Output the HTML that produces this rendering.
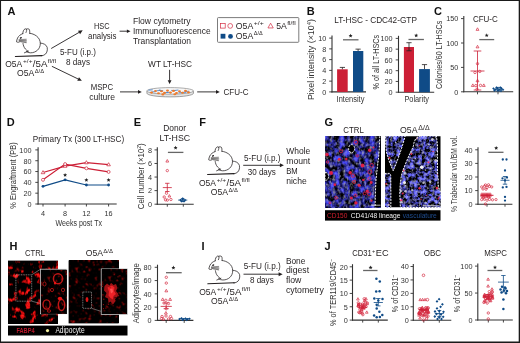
<!DOCTYPE html>
<html><head><meta charset="utf-8"><style>
html,body{margin:0;padding:0;background:#fff;}
body{width:520px;height:343px;overflow:hidden;}
svg{display:block;font-family:"Liberation Sans",sans-serif;will-change:transform;}
</style></head><body>
<svg width="520" height="343" viewBox="0 0 520 343">
<defs>
<filter id="fblue" x="0" y="0" width="100%" height="100%" color-interpolation-filters="sRGB">
  <feTurbulence type="fractalNoise" baseFrequency="0.2" numOctaves="3" seed="4" result="n"/>
  <feColorMatrix in="n" type="matrix" values="
   0.8 0 0 0 -0.3
   0.8 0 0 0 -0.3
   2.6 0 0 0 -0.86
   0 0 0 0 1"/>
</filter>
<filter id="fblue2" x="0" y="0" width="100%" height="100%" color-interpolation-filters="sRGB">
  <feTurbulence type="fractalNoise" baseFrequency="0.24" numOctaves="3" seed="17" result="n"/>
  <feColorMatrix in="n" type="matrix" values="
   1.4 0 0 0 -0.56
   1.4 0 0 0 -0.56
   3.3 0 0 0 -1.22
   0 0 0 0 1"/>
</filter>
<filter id="fgray" x="0" y="0" width="100%" height="100%" color-interpolation-filters="sRGB">
  <feTurbulence type="fractalNoise" baseFrequency="0.38" numOctaves="2" seed="13" result="n"/>
  <feColorMatrix in="n" type="matrix" values="
   0 0 0 0 0.62
   0 0 0 0 0.62
   0 0 0 0 0.68
   2.4 0 0 0 -1.1"/>
</filter>
<filter id="fred" x="0" y="0" width="100%" height="100%" color-interpolation-filters="sRGB">
  <feTurbulence type="fractalNoise" baseFrequency="0.17" numOctaves="4" seed="9" result="n"/>
  <feColorMatrix in="n" type="matrix" values="
   5.5 0 0 0 -3.05
   0.7 0 0 0 -0.44
   0.7 0 0 0 -0.44
   0 0 0 0 1"/>
</filter>
<filter id="fred2" x="0" y="0" width="100%" height="100%" color-interpolation-filters="sRGB">
  <feTurbulence type="fractalNoise" baseFrequency="0.3" numOctaves="3" seed="21" result="n"/>
  <feColorMatrix in="n" type="matrix" values="
   3.0 0 0 0 -1.74
   0.25 0 0 0 -0.16
   0.25 0 0 0 -0.16
   0 0 0 0 1"/>
</filter>
<clipPath id="cg1"><rect x="325" y="136.2" width="55.9" height="71.1"/></clipPath>
<clipPath id="cg2"><rect x="385" y="136.2" width="55.5" height="71.1"/></clipPath>
</defs>
<rect x="0" y="0" width="520" height="343" fill="#fff"/>
<g clip-path="url(#cg1)">
<rect x="325" y="136.2" width="56" height="71.2" fill="#1a1a48"/>
<svg x="325" y="136.2" width="56" height="71.2" overflow="hidden"><rect width="70" height="80" filter="url(#fblue)"/></svg>
<svg x="325" y="136.2" width="56" height="71.2" overflow="hidden"><rect width="70" height="80" filter="url(#fgray)"/></svg>
<circle cx="371.5" cy="200.7" r="1.1" fill="#f02040" opacity="0.9"/>
<circle cx="367.2" cy="191.1" r="1.7" fill="#f02040" opacity="0.9"/>
<circle cx="359.2" cy="185.3" r="1.6" fill="#f02040" opacity="0.9"/>
<circle cx="353.1" cy="175.7" r="1.7" fill="none" stroke="#f02040" stroke-width="0.8" opacity="0.9"/>
<circle cx="371.2" cy="182.5" r="1.4" fill="#f02040" opacity="0.9"/>
<circle cx="339.3" cy="159.2" r="1.5" fill="#f02040" opacity="0.9"/>
<circle cx="351.3" cy="198.1" r="1.5" fill="#f02040" opacity="0.9"/>
<circle cx="346.3" cy="159.1" r="1.3" fill="#f02040" opacity="0.9"/>
<circle cx="355.9" cy="202.9" r="1.7" fill="#f02040" opacity="0.9"/>
<circle cx="369.3" cy="193.9" r="1.7" fill="none" stroke="#f02040" stroke-width="0.8" opacity="0.9"/>
<circle cx="364.7" cy="193.5" r="1.4" fill="none" stroke="#f02040" stroke-width="0.8" opacity="0.9"/>
<circle cx="371.7" cy="165.3" r="1.8" fill="none" stroke="#f02040" stroke-width="0.8" opacity="0.9"/>
<circle cx="354.1" cy="181.9" r="1.5" fill="none" stroke="#f02040" stroke-width="0.8" opacity="0.9"/>
<circle cx="355.5" cy="195.4" r="1.4" fill="none" stroke="#f02040" stroke-width="0.8" opacity="0.9"/>
<circle cx="369.5" cy="178.7" r="1.6" fill="none" stroke="#f02040" stroke-width="0.8" opacity="0.9"/>
<circle cx="363.3" cy="179.9" r="1.2" fill="#f02040" opacity="0.9"/>
<circle cx="362.5" cy="165.5" r="1.9" fill="#f02040" opacity="0.9"/>
<circle cx="369.9" cy="171.9" r="2.0" fill="none" stroke="#f02040" stroke-width="0.8" opacity="0.9"/>
<circle cx="350.2" cy="172.7" r="1.7" fill="#f02040" opacity="0.9"/>
<circle cx="341.0" cy="151.3" r="1.5" fill="none" stroke="#f02040" stroke-width="0.8" opacity="0.9"/>
<circle cx="355.9" cy="142.2" r="1.8" fill="none" stroke="#f02040" stroke-width="0.8" opacity="0.9"/>
<circle cx="369.6" cy="150.2" r="1.7" fill="#f02040" opacity="0.9"/>
<circle cx="357.3" cy="155.8" r="1.2" fill="none" stroke="#f02040" stroke-width="0.8" opacity="0.9"/>
<circle cx="331.1" cy="173.0" r="1.9" fill="#f02040" opacity="0.9"/>
<circle cx="336.1" cy="197.8" r="1.4" fill="none" stroke="#f02040" stroke-width="0.8" opacity="0.9"/>
<circle cx="327.5" cy="162.0" r="1.2" fill="none" stroke="#f02040" stroke-width="0.8" opacity="0.9"/>
<circle cx="330.0" cy="202.9" r="1.0" fill="none" stroke="#f02040" stroke-width="0.8" opacity="0.9"/>
<circle cx="327.0" cy="154.6" r="1.8" fill="#f02040" opacity="0.9"/>
<circle cx="334.8" cy="184.7" r="1.4" fill="#f02040" opacity="0.9"/>
<circle cx="373.5" cy="147.4" r="1.0" fill="#f02040" opacity="0.9"/>
<path d="M379.8,136 C379.5,146 379,155 378.3,160 C377.5,166 376.8,172 376,180 C375.5,188 375.2,198 375.1,207.5 L382,207.5 L382,136 Z" fill="#000"/>
<path d="M379.8,136 C379.5,146 379,155 378.3,160 C377.5,166 376.8,172 376,180 C375.5,188 375.2,198 375.1,207.5" stroke="#fff" stroke-width="0.95" stroke-dasharray="2 1.1" fill="none"/>
<ellipse cx="351.6" cy="148.6" rx="3.0" ry="4.0" fill="#000" stroke="#fff" stroke-width="0.95" stroke-dasharray="2 1.1" />
<path d="M325,172.3 A3.6,4.1 0 0 1 325,180.5 Z" fill="#000" stroke="#fff" stroke-width="0.95" stroke-dasharray="2 1.1" />
<line x1="371.4" y1="205.2" x2="380.5" y2="205.2" stroke="#fff" stroke-width="0.7"/>
</g>
<g clip-path="url(#cg2)">
<rect x="385" y="136" width="56" height="72" fill="#000"/>
<clipPath id="cgi"><path d="M385.6,136 L405.2,136 C402,148 397.5,161 393.2,170.8 C390.5,165 387.8,158 386.4,151.8 C385.8,146 385.6,141 385.6,136 Z"/><path d="M384.6,173.4 L389.5,173.4 C390.5,174 390.8,175 390.8,177 C390.8,187 391,197 390.8,207.5 L384.6,207.5 Z"/><path d="M420.8,136 C416.5,136.5 414,140 413.6,145.2 C412.5,149 410.5,152 409.6,154 C408,158 404.5,166 402.8,170.8 C400.8,176 399.8,185 399.8,195 L400.4,207.5 L441,207.5 L441,193 C439,189 437.5,185 438.3,180 C437.6,176 437.5,172 437.5,168 L437.5,145 L436.4,136 Z"/></clipPath>
<g clip-path="url(#cgi)">
<rect x="385" y="136" width="56" height="72" fill="#101030"/>
<svg x="385" y="136" width="56" height="72" overflow="hidden"><rect width="70" height="80" filter="url(#fblue2)"/></svg>
<svg x="385" y="136" width="56" height="72" overflow="hidden"><rect width="70" height="80" filter="url(#fgray)"/></svg>
<circle cx="419.6" cy="188.2" r="1.2" fill="#ff3050" opacity="0.85"/>
<circle cx="436.9" cy="188.1" r="1.3" fill="#ff3050" opacity="0.85"/>
<circle cx="387.6" cy="169.1" r="1.4" fill="#ff3050" opacity="0.85"/>
<circle cx="421.0" cy="199.2" r="0.7" fill="#ff3050" opacity="0.85"/>
<circle cx="411.3" cy="154.0" r="1.0" fill="#ff3050" opacity="0.85"/>
<circle cx="417.0" cy="137.9" r="0.8" fill="#ff3050" opacity="0.85"/>
<circle cx="401.1" cy="200.2" r="1.2" fill="#ff3050" opacity="0.85"/>
<circle cx="394.6" cy="192.0" r="0.7" fill="#ff3050" opacity="0.85"/>
<circle cx="419.3" cy="145.7" r="0.6" fill="#ff3050" opacity="0.85"/>
<circle cx="433.1" cy="151.5" r="0.8" fill="#ff3050" opacity="0.85"/>
<circle cx="439.1" cy="197.2" r="0.8" fill="#ff3050" opacity="0.85"/>
<circle cx="437.9" cy="174.2" r="1.1" fill="#ff3050" opacity="0.85"/>
<circle cx="397.1" cy="201.9" r="1.2" fill="#ff3050" opacity="0.85"/>
<circle cx="438.2" cy="198.7" r="0.8" fill="#ff3050" opacity="0.85"/>
<circle cx="405.5" cy="148.5" r="0.7" fill="#ff3050" opacity="0.85"/>
<circle cx="389.5" cy="157.8" r="1.1" fill="#ff3050" opacity="0.85"/>
<circle cx="386.2" cy="183.8" r="0.9" fill="#ff3050" opacity="0.85"/>
<circle cx="402.7" cy="193.5" r="1.0" fill="#ff3050" opacity="0.85"/>
<circle cx="403.1" cy="170.2" r="1.2" fill="#ff3050" opacity="0.85"/>
<circle cx="389.1" cy="204.3" r="0.6" fill="#ff3050" opacity="0.85"/>
<circle cx="426.5" cy="195.3" r="0.6" fill="#ff3050" opacity="0.85"/>
<circle cx="428.5" cy="162.3" r="1.1" fill="#ff3050" opacity="0.85"/>
<circle cx="386.5" cy="140.2" r="0.7" fill="#e0e0ec" opacity="0.75"/>
<circle cx="437.6" cy="150.6" r="1.3" fill="#e0e0ec" opacity="0.75"/>
<circle cx="436.2" cy="202.0" r="0.8" fill="#e0e0ec" opacity="0.75"/>
<circle cx="405.2" cy="173.2" r="1.3" fill="#e0e0ec" opacity="0.75"/>
<circle cx="391.8" cy="188.6" r="1.3" fill="#e0e0ec" opacity="0.75"/>
<circle cx="432.4" cy="139.5" r="1.4" fill="#e0e0ec" opacity="0.75"/>
<circle cx="390.9" cy="160.5" r="1.1" fill="#e0e0ec" opacity="0.75"/>
<circle cx="435.6" cy="160.5" r="1.4" fill="#e0e0ec" opacity="0.75"/>
<circle cx="415.4" cy="158.6" r="0.8" fill="#e0e0ec" opacity="0.75"/>
<circle cx="395.6" cy="142.4" r="0.6" fill="#e0e0ec" opacity="0.75"/>
<circle cx="423.2" cy="205.8" r="0.7" fill="#e0e0ec" opacity="0.75"/>
<circle cx="388.6" cy="205.1" r="1.0" fill="#e0e0ec" opacity="0.75"/>
<circle cx="407.9" cy="153.4" r="1.1" fill="#e0e0ec" opacity="0.75"/>
<circle cx="430.6" cy="168.4" r="0.9" fill="#e0e0ec" opacity="0.75"/>
<circle cx="389.0" cy="200.2" r="0.5" fill="#e0e0ec" opacity="0.75"/>
<circle cx="412.7" cy="194.9" r="0.6" fill="#e0e0ec" opacity="0.75"/>
<circle cx="425.5" cy="202.5" r="1.1" fill="#e0e0ec" opacity="0.75"/>
<circle cx="428.6" cy="144.4" r="0.9" fill="#e0e0ec" opacity="0.75"/>
<circle cx="394.1" cy="195.3" r="0.8" fill="#e0e0ec" opacity="0.75"/>
<circle cx="410.5" cy="206.0" r="1.4" fill="#e0e0ec" opacity="0.75"/>
<circle cx="438.7" cy="168.3" r="1.0" fill="#e0e0ec" opacity="0.75"/>
<circle cx="425.4" cy="170.1" r="0.8" fill="#e0e0ec" opacity="0.75"/>
<circle cx="407.8" cy="147.1" r="0.9" fill="#e0e0ec" opacity="0.75"/>
<circle cx="439.4" cy="203.2" r="1.1" fill="#e0e0ec" opacity="0.75"/>
<circle cx="413.0" cy="160.4" r="0.6" fill="#e0e0ec" opacity="0.75"/>
<circle cx="400.7" cy="191.0" r="1.4" fill="#e0e0ec" opacity="0.75"/>
<circle cx="405.5" cy="191.2" r="1.3" fill="#e0e0ec" opacity="0.75"/>
<circle cx="423.5" cy="182.8" r="1.3" fill="#e0e0ec" opacity="0.75"/>
<circle cx="405.6" cy="185.6" r="0.8" fill="#e0e0ec" opacity="0.75"/>
<circle cx="412.2" cy="190.1" r="1.2" fill="#e0e0ec" opacity="0.75"/>
<circle cx="401.9" cy="202.2" r="1.1" fill="#e0e0ec" opacity="0.75"/>
<circle cx="417.4" cy="137.8" r="1.0" fill="#e0e0ec" opacity="0.75"/>
<circle cx="399.5" cy="183.3" r="1.0" fill="#e0e0ec" opacity="0.75"/>
<circle cx="430.1" cy="181.7" r="1.3" fill="#e0e0ec" opacity="0.75"/>
<circle cx="421.8" cy="167.3" r="1.8" fill="#f4f4f4"/>
<circle cx="404.5" cy="182.5" r="1.5" fill="#eee"/>
</g>
<path d="M385.6,136 L405.2,136 C402,148 397.5,161 393.2,170.8 C390.5,165 387.8,158 386.4,151.8 C385.8,146 385.6,141 385.6,136 Z" stroke="#fff" stroke-width="0.95" stroke-dasharray="2 1.1" fill="none"/>
<path d="M384.6,173.4 L389.5,173.4 C390.5,174 390.8,175 390.8,177 C390.8,187 391,197 390.8,207.5 L384.6,207.5 Z" stroke="#fff" stroke-width="0.95" stroke-dasharray="2 1.1" fill="none"/>
<path d="M420.8,136 C416.5,136.5 414,140 413.6,145.2 C412.5,149 410.5,152 409.6,154 C408,158 404.5,166 402.8,170.8 C400.8,176 399.8,185 399.8,195 L400.4,207.5 L441,207.5 L441,193 C439,189 437.5,185 438.3,180 C437.6,176 437.5,172 437.5,168 L437.5,145 L436.4,136 Z" stroke="#fff" stroke-width="0.95" stroke-dasharray="2 1.1" fill="none"/>
<line x1="424.4" y1="205.8" x2="439.7" y2="205.8" stroke="#fff" stroke-width="0.7"/>
</g>
<rect x="8" y="260.6" width="50" height="62.8" fill="#000"/>
<svg x="8" y="260.6" width="50" height="62.8" overflow="hidden"><rect width="60" height="70" filter="url(#fred)"/></svg>
<rect x="15.9" y="274.8" width="15.8" height="26.4" fill="none" stroke="#c8c8c8" stroke-width="0.6" stroke-dasharray="1 0.7"/>
<line x1="31.7" y1="274.8" x2="40.6" y2="269.2" stroke="#bbb" stroke-width="0.5"/>
<line x1="31.7" y1="301.2" x2="40.6" y2="303.5" stroke="#bbb" stroke-width="0.5"/>
<rect x="40.4" y="269.2" width="26.4" height="44.6" fill="#000" stroke="#cfcfcf" stroke-width="0.75"/>
<svg x="40.8" y="269.6" width="25.6" height="43.8" overflow="hidden"><rect width="30" height="50" filter="url(#fred2)" opacity="0.9"/></svg>
<ellipse cx="58" cy="278.8" rx="4.6" ry="5.0" fill="none" stroke="#d41818" stroke-width="1.5" opacity="0.9"/>
<ellipse cx="46.6" cy="304.5" rx="3.6" ry="4.6" fill="none" stroke="#d41818" stroke-width="1.4" opacity="0.9"/>
<ellipse cx="61.5" cy="305" rx="3.2" ry="5.5" fill="none" stroke="#d41818" stroke-width="1.5" opacity="0.9"/>
<ellipse cx="52" cy="290" rx="1.6" ry="1.6" fill="none" stroke="#d41818" stroke-width="0.8" opacity="0.9"/>
<ellipse cx="44.5" cy="284" rx="1.6" ry="2.0" fill="none" stroke="#d41818" stroke-width="0.8" opacity="0.9"/>
<ellipse cx="63" cy="290" rx="1.6" ry="1.8" fill="none" stroke="#d41818" stroke-width="0.8" opacity="0.9"/>
<ellipse cx="49" cy="311" rx="1.8" ry="1.2" fill="none" stroke="#d41818" stroke-width="0.8" opacity="0.9"/>
<ellipse cx="60" cy="298.5" rx="2.2" ry="1.8" fill="#e81515"/>
<ellipse cx="55" cy="283" rx="1.2" ry="1.5" fill="#e81515"/>
<rect x="68.6" y="260.4" width="50" height="63" fill="#000"/>
<svg x="68.6" y="260.4" width="50" height="63" overflow="hidden"><rect width="60" height="70" filter="url(#fred2)"/></svg>
<rect x="82.8" y="292" width="8.7" height="16.3" fill="#000" stroke="#c8c8c8" stroke-width="0.6" stroke-dasharray="1 0.7"/>
<ellipse cx="87" cy="299.5" rx="1.4" ry="2.6" fill="#e01515"/>
<line x1="91.5" y1="308.3" x2="101.2" y2="311.4" stroke="#bbb" stroke-width="0.5"/>
<rect x="101.2" y="268.9" width="26.1" height="45.5" fill="#000" stroke="#cfcfcf" stroke-width="0.75"/>
<svg x="101.6" y="269.3" width="25.3" height="44.7" overflow="hidden"><rect width="30" height="50" filter="url(#fred2)" opacity="0.9"/></svg>
<path d="M104.5,286 L107,283.5 L109.5,285.5 L111,282.8 L113.5,285 L116,284 L117.5,288 L116,291 L118.5,294 L117,297.5 L114.5,297 L115.5,301 L113,304.5 L110.5,301.5 L108.5,303 L108,298.5 L105,297 L106.5,293 L104,290.5 Z" fill="#b81418" opacity="0.85"/>
<path d="M107.5,287.5 L110,286.5 L112,285.5 L114.5,287.5 L114,291 L116,294 L113.5,296 L113,299.5 L110.5,298 L108.5,295.5 L109,291.5 Z" fill="#ee2228"/>
<path d="M110,289 L112.5,288.5 L113,292 L111,293.5 Z" fill="#ff5050"/>
<circle cx="113.4" cy="298.0" r="0.6" fill="#a01010"/>
<circle cx="118.0" cy="276.8" r="0.6" fill="#a01010"/>
<circle cx="102.3" cy="286.4" r="0.6" fill="#a01010"/>
<circle cx="108.6" cy="304.2" r="0.6" fill="#a01010"/>
<circle cx="118.6" cy="295.7" r="0.6" fill="#a01010"/>
<circle cx="115.4" cy="298.1" r="0.6" fill="#a01010"/>
<circle cx="105.5" cy="289.0" r="0.6" fill="#a01010"/>
<circle cx="105.9" cy="308.1" r="0.6" fill="#a01010"/>
<circle cx="103.4" cy="304.6" r="0.6" fill="#a01010"/>
<circle cx="103.8" cy="299.2" r="0.6" fill="#a01010"/>
<circle cx="110.1" cy="287.6" r="0.6" fill="#a01010"/>
<circle cx="122.2" cy="271.8" r="0.6" fill="#a01010"/>
<circle cx="103.5" cy="308.5" r="0.6" fill="#a01010"/>
<circle cx="114.2" cy="274.7" r="0.6" fill="#a01010"/>
<text x="7.50" y="15.40" font-size="11" fill="#111" font-weight="bold">A</text>
<g transform="translate(12 25)" fill="none" stroke="#231f20" stroke-width="0.75" stroke-linecap="round" stroke-linejoin="round">
<path d="M14.4,14.3 L7,14.7 L6.8,16.6 L9,17.4 L14.4,18.3 Z" fill="#8a8a8a" stroke="none" opacity="0.55"/>
<path d="M10.8,8.6 C8.5,9.5 6.5,11 5.6,13 C5,14.3 4.6,15.6 4.5,16.8 C5.5,17.4 6.5,17.3 7.2,17.1"/>
<path d="M10.8,8.6 C10.9,6.5 11.5,4.6 13.1,3.9 C14.2,3.6 14.8,4.3 14.6,5.5 C14.5,6.3 14.2,7 14,7.5"/>
<path d="M14.2,4.3 C14.8,3.6 16.2,3.6 17.2,4.3 C17.8,5.2 17.8,6.8 17.7,8.2"/>
<path d="M17.7,8.3 C22,8.6 28.3,12 28.3,18.5 C28.3,24 24,27.8 18.5,27.8 C16.8,27.8 15.3,27.3 14.3,26.6"/>
<path d="M11.0,18.5 C11.2,20 11.8,22.2 13.4,24 C14.2,25 15.1,25.6 15.9,26.1"/>
<ellipse cx="8.8" cy="12.9" rx="1.15" ry="0.75" transform="rotate(-30 8.8 12.9)" fill="#231f20" stroke="none"/>
<path d="M7,14.6 L14.3,14.2 M7,15.4 L14.6,15.9 M7.4,16.2 L14.3,17.6" stroke-width="0.45"/>
<path d="M12.4,27.8 L16.5,26.1"/>
<path d="M28.4,18.1 C31,18.2 34.3,19.4 35.2,22.4 C35.9,25.5 34.6,29.2 31.8,30.2 C30.6,30.6 29.8,30.7 29.2,30.7"/>
<path d="M3.4,31.5 L30,30.6" stroke-width="1.1"/>
</g>
<text x="5.20" y="66.50" font-size="9.0" fill="#231f20" textLength="17.00" lengthAdjust="spacingAndGlyphs">O5A</text>
<text x="23.00" y="62.80" font-size="5.6" fill="#231f20" textLength="9.50" lengthAdjust="spacingAndGlyphs">+/+</text>
<text x="32.80" y="66.50" font-size="9.0" fill="#231f20" textLength="14.60" lengthAdjust="spacingAndGlyphs">/5A</text>
<text x="47.80" y="62.80" font-size="5.6" fill="#231f20" textLength="8.30" lengthAdjust="spacingAndGlyphs">fl/fl</text>
<text x="17.10" y="76.30" font-size="9.0" fill="#231f20" textLength="17.20" lengthAdjust="spacingAndGlyphs">O5A</text>
<text x="34.70" y="72.60" font-size="5.6" fill="#231f20" textLength="9.50" lengthAdjust="spacingAndGlyphs">Δ/Δ</text>
<line x1="51.20" y1="48.50" x2="79.50" y2="32.15" stroke="#231f20" stroke-width="0.9"/>
<path d="M82.70,30.30 L80.06,34.13 L78.06,30.67 Z" fill="#231f20"/>
<line x1="51.90" y1="66.30" x2="78.57" y2="79.19" stroke="#231f20" stroke-width="0.9"/>
<path d="M81.90,80.80 L77.25,80.77 L78.99,77.17 Z" fill="#231f20"/>
<text x="94.00" y="29.20" font-size="8.8" fill="#231f20" textLength="15.60" lengthAdjust="spacingAndGlyphs">HSC</text>
<text x="88.00" y="38.80" font-size="8.8" fill="#231f20" textLength="28.50" lengthAdjust="spacingAndGlyphs">analysis</text>
<text x="59.90" y="55.00" font-size="8.8" fill="#231f20" textLength="36.00" lengthAdjust="spacingAndGlyphs">5-FU (i.p.)</text>
<text x="66.00" y="65.40" font-size="8.8" fill="#231f20" textLength="24.00" lengthAdjust="spacingAndGlyphs">8 days</text>
<text x="90.70" y="90.00" font-size="8.8" fill="#231f20" textLength="22.50" lengthAdjust="spacingAndGlyphs">MSPC</text>
<text x="89.20" y="99.70" font-size="8.8" fill="#231f20" textLength="25.80" lengthAdjust="spacingAndGlyphs">culture</text>
<line x1="119.60" y1="31.20" x2="127.40" y2="31.20" stroke="#231f20" stroke-width="0.9"/>
<path d="M130.50,31.20 L126.90,33.00 L126.90,29.40 Z" fill="#231f20"/>
<text x="132.90" y="23.80" font-size="8.6" fill="#231f20" textLength="57.70" lengthAdjust="spacingAndGlyphs">Flow cytometry</text>
<text x="132.90" y="34.00" font-size="8.6" fill="#231f20" textLength="77.70" lengthAdjust="spacingAndGlyphs">Immunofluorescence</text>
<text x="132.90" y="43.70" font-size="8.6" fill="#231f20" textLength="58.10" lengthAdjust="spacingAndGlyphs">Transplantation</text>
<line x1="120.00" y1="91.90" x2="138.50" y2="91.90" stroke="#231f20" stroke-width="0.9"/>
<path d="M141.80,91.90 L138.00,93.80 L138.00,90.00 Z" fill="#231f20"/>
<text x="148.10" y="67.00" font-size="8.6" fill="#231f20" textLength="43.80" lengthAdjust="spacingAndGlyphs">WT LT-HSC</text>
<line x1="169.60" y1="69.80" x2="169.60" y2="80.70" stroke="#231f20" stroke-width="0.9"/>
<path d="M169.60,84.00 L167.70,80.20 L171.50,80.20 Z" fill="#231f20"/>
<path d="M146.9,90.9 L146.9,93.2 C146.9,95.3 157,96.9 170.2,96.9 C183.4,96.9 193.5,95.3 193.5,93.2 L193.5,90.9" fill="#e4e4e4" stroke="#6a6a6a" stroke-width="0.6"/>
<ellipse cx="170.2" cy="90.9" rx="23.3" ry="3.3" fill="#f7f7f7" stroke="#777" stroke-width="0.6"/>
<path d="M148.3,90.2 L152.7,89.8" stroke="#4f86c9" stroke-width="0.9"/>
<path d="M151.5,91.9 L155.9,91.7" stroke="#4f86c9" stroke-width="0.9"/>
<path d="M156.5,90.8 L160.9,90.4" stroke="#4f86c9" stroke-width="0.9"/>
<path d="M158.9,89.9 L163.3,90.9" stroke="#4f86c9" stroke-width="0.9"/>
<path d="M163.9,93.0 L168.3,92.2" stroke="#4f86c9" stroke-width="0.9"/>
<path d="M166.4,92.3 L170.8,92.5" stroke="#4f86c9" stroke-width="0.9"/>
<path d="M171.2,90.4 L175.6,90.5" stroke="#4f86c9" stroke-width="0.9"/>
<path d="M174.0,90.5 L178.4,90.0" stroke="#4f86c9" stroke-width="0.9"/>
<path d="M178.5,92.8 L182.9,92.5" stroke="#4f86c9" stroke-width="0.9"/>
<path d="M182.0,92.4 L186.4,92.3" stroke="#4f86c9" stroke-width="0.9"/>
<path d="M184.8,91.5 L189.2,91.2" stroke="#4f86c9" stroke-width="0.9"/>
<ellipse cx="151.5" cy="92.6" rx="1.5" ry="1.05" fill="#ee7a2c"/>
<ellipse cx="155.5" cy="91.0" rx="1.5" ry="1.05" fill="#ee7a2c"/>
<ellipse cx="158.5" cy="93.2" rx="1.5" ry="1.05" fill="#ee7a2c"/>
<ellipse cx="161.5" cy="91.3" rx="1.5" ry="1.05" fill="#ee7a2c"/>
<ellipse cx="164.5" cy="92.9" rx="1.5" ry="1.05" fill="#ee7a2c"/>
<ellipse cx="167.5" cy="90.6" rx="1.5" ry="1.05" fill="#ee7a2c"/>
<ellipse cx="170.5" cy="92.6" rx="1.5" ry="1.05" fill="#ee7a2c"/>
<ellipse cx="173.5" cy="90.9" rx="1.5" ry="1.05" fill="#ee7a2c"/>
<ellipse cx="176.5" cy="93.0" rx="1.5" ry="1.05" fill="#ee7a2c"/>
<ellipse cx="179.5" cy="91.2" rx="1.5" ry="1.05" fill="#ee7a2c"/>
<ellipse cx="182.5" cy="92.8" rx="1.5" ry="1.05" fill="#ee7a2c"/>
<ellipse cx="185.5" cy="90.9" rx="1.5" ry="1.05" fill="#ee7a2c"/>
<ellipse cx="188.5" cy="92.4" rx="1.5" ry="1.05" fill="#ee7a2c"/>
<ellipse cx="162.8" cy="94.4" rx="1.5" ry="1.05" fill="#ee7a2c"/>
<ellipse cx="174.8" cy="94.3" rx="1.5" ry="1.05" fill="#ee7a2c"/>
<line x1="197.20" y1="91.90" x2="216.50" y2="91.90" stroke="#231f20" stroke-width="0.9"/>
<path d="M219.80,91.90 L216.00,93.80 L216.00,90.00 Z" fill="#231f20"/>
<text x="223.50" y="94.70" font-size="8.6" fill="#231f20" textLength="25.00" lengthAdjust="spacingAndGlyphs">CFU-C</text>
<rect x="217.5" y="17.6" width="81.3" height="24.7" rx="0.8" fill="none" stroke="#6d6d6d" stroke-width="0.9"/>
<rect x="220.60" y="23.50" width="4.6" height="4.6" fill="none" stroke="#d42a40" stroke-width="0.7"/>
<circle cx="230.20" cy="25.90" r="2.4" fill="none" stroke="#d42a40" stroke-width="0.7"/>
<text x="235.80" y="28.70" font-size="8.8" fill="#231f20" textLength="17.50" lengthAdjust="spacingAndGlyphs">O5A</text>
<text x="253.80" y="25.00" font-size="5.6" fill="#231f20" textLength="10.00" lengthAdjust="spacingAndGlyphs">+/+</text>
<path d="M270.60,23.20 L273.26,27.96 L267.94,27.96 Z" fill="none" stroke="#d42a40" stroke-width="0.7"/>
<text x="276.30" y="28.70" font-size="8.8" fill="#231f20" textLength="10.60" lengthAdjust="spacingAndGlyphs">5A</text>
<text x="287.20" y="25.00" font-size="5.6" fill="#231f20" textLength="8.50" lengthAdjust="spacingAndGlyphs">fl/fl</text>
<rect x="220.60" y="33.80" width="4.8" height="4.8" fill="#0f4b87"/>
<circle cx="230.50" cy="36.40" r="2.4" fill="#0f4b87"/>
<text x="235.80" y="39.10" font-size="8.8" fill="#231f20" textLength="17.50" lengthAdjust="spacingAndGlyphs">O5A</text>
<text x="253.80" y="35.40" font-size="5.6" fill="#231f20" textLength="9.00" lengthAdjust="spacingAndGlyphs">Δ/Δ</text>
<text x="306.70" y="15.40" font-size="11" fill="#111" font-weight="bold">B</text>
<text x="334.20" y="23.10" font-size="8.4" fill="#231f20" textLength="82.70" lengthAdjust="spacingAndGlyphs">LT-HSC - CDC42-GTP</text>
<line x1="332.00" y1="35.50" x2="332.00" y2="92.40" stroke="#333333" stroke-width="1.1"/>
<line x1="329.20" y1="91.90" x2="332.00" y2="91.90" stroke="#333333" stroke-width="0.9"/>
<text x="326.30" y="94.75" font-size="8.1" fill="#333" text-anchor="end" textLength="4.05" lengthAdjust="spacingAndGlyphs">0</text>
<line x1="329.20" y1="81.14" x2="332.00" y2="81.14" stroke="#333333" stroke-width="0.9"/>
<text x="326.30" y="83.99" font-size="8.1" fill="#333" text-anchor="end" textLength="4.05" lengthAdjust="spacingAndGlyphs">2</text>
<line x1="329.20" y1="70.38" x2="332.00" y2="70.38" stroke="#333333" stroke-width="0.9"/>
<text x="326.30" y="73.23" font-size="8.1" fill="#333" text-anchor="end" textLength="4.05" lengthAdjust="spacingAndGlyphs">4</text>
<line x1="329.20" y1="59.62" x2="332.00" y2="59.62" stroke="#333333" stroke-width="0.9"/>
<text x="326.30" y="62.47" font-size="8.1" fill="#333" text-anchor="end" textLength="4.05" lengthAdjust="spacingAndGlyphs">6</text>
<line x1="329.20" y1="48.86" x2="332.00" y2="48.86" stroke="#333333" stroke-width="0.9"/>
<text x="326.30" y="51.71" font-size="8.1" fill="#333" text-anchor="end" textLength="4.05" lengthAdjust="spacingAndGlyphs">8</text>
<line x1="329.20" y1="38.10" x2="332.00" y2="38.10" stroke="#333333" stroke-width="0.9"/>
<text x="326.30" y="40.95" font-size="8.1" fill="#333" text-anchor="end" textLength="8.10" lengthAdjust="spacingAndGlyphs">10</text>
<line x1="331.45" y1="91.90" x2="366.00" y2="91.90" stroke="#333333" stroke-width="1.1"/>
<rect x="337.1" y="69.30" width="10.6" height="22.60" fill="#cc1f36"/>
<rect x="353.0" y="51.01" width="10.3" height="40.89" fill="#0f4b87"/>
<line x1="342.40" y1="67.42" x2="342.40" y2="69.30" stroke="#231f20" stroke-width="0.8"/>
<line x1="339.80" y1="67.42" x2="345.00" y2="67.42" stroke="#231f20" stroke-width="0.8"/>
<line x1="358.10" y1="49.13" x2="358.10" y2="51.01" stroke="#231f20" stroke-width="0.8"/>
<line x1="355.50" y1="49.13" x2="360.70" y2="49.13" stroke="#231f20" stroke-width="0.8"/>
<line x1="343.00" y1="39.80" x2="358.50" y2="39.80" stroke="#666" stroke-width="1.3"/>
<polygon points="350.60,33.70 351.16,35.04 352.60,35.15 351.50,36.09 351.83,37.50 350.60,36.74 349.37,37.50 349.70,36.09 348.60,35.15 350.04,35.04" fill="#222"/>
<text x="336.60" y="101.80" font-size="8.4" fill="#333" textLength="27.80" lengthAdjust="spacingAndGlyphs">Intensity</text>
<text x="0" y="0" font-size="8.6" fill="#333" text-anchor="middle" textLength="81.0" lengthAdjust="spacingAndGlyphs" transform="translate(313.80 59.60) rotate(-90)">Pixel intensity (×10<tspan font-size="5.5" dy="-3">4</tspan><tspan dy="3">)</tspan></text>
<line x1="398.50" y1="35.80" x2="398.50" y2="92.70" stroke="#333333" stroke-width="1.1"/>
<line x1="395.70" y1="92.20" x2="398.50" y2="92.20" stroke="#333333" stroke-width="0.9"/>
<text x="392.60" y="95.05" font-size="8.1" fill="#333" text-anchor="end" textLength="4.05" lengthAdjust="spacingAndGlyphs">0</text>
<line x1="395.70" y1="81.44" x2="398.50" y2="81.44" stroke="#333333" stroke-width="0.9"/>
<text x="392.60" y="84.29" font-size="8.1" fill="#333" text-anchor="end" textLength="8.10" lengthAdjust="spacingAndGlyphs">20</text>
<line x1="395.70" y1="70.68" x2="398.50" y2="70.68" stroke="#333333" stroke-width="0.9"/>
<text x="392.60" y="73.53" font-size="8.1" fill="#333" text-anchor="end" textLength="8.10" lengthAdjust="spacingAndGlyphs">40</text>
<line x1="395.70" y1="59.92" x2="398.50" y2="59.92" stroke="#333333" stroke-width="0.9"/>
<text x="392.60" y="62.77" font-size="8.1" fill="#333" text-anchor="end" textLength="8.10" lengthAdjust="spacingAndGlyphs">60</text>
<line x1="395.70" y1="49.16" x2="398.50" y2="49.16" stroke="#333333" stroke-width="0.9"/>
<text x="392.60" y="52.01" font-size="8.1" fill="#333" text-anchor="end" textLength="8.10" lengthAdjust="spacingAndGlyphs">80</text>
<line x1="395.70" y1="38.40" x2="398.50" y2="38.40" stroke="#333333" stroke-width="0.9"/>
<text x="392.60" y="41.25" font-size="8.1" fill="#333" text-anchor="end" textLength="12.15" lengthAdjust="spacingAndGlyphs">100</text>
<line x1="397.95" y1="92.20" x2="434.20" y2="92.20" stroke="#333333" stroke-width="1.1"/>
<rect x="403.9" y="47.01" width="10.1" height="45.19" fill="#cc1f36"/>
<rect x="419.1" y="69.07" width="10.8" height="23.13" fill="#0f4b87"/>
<line x1="409.00" y1="42.70" x2="409.00" y2="50.77" stroke="#231f20" stroke-width="0.8"/>
<line x1="406.40" y1="42.70" x2="411.60" y2="42.70" stroke="#231f20" stroke-width="0.8"/>
<line x1="406.40" y1="50.77" x2="411.60" y2="50.77" stroke="#231f20" stroke-width="0.8"/>
<line x1="424.50" y1="64.60" x2="424.50" y2="69.07" stroke="#231f20" stroke-width="0.8"/>
<line x1="421.90" y1="64.60" x2="427.10" y2="64.60" stroke="#231f20" stroke-width="0.8"/>
<line x1="408.50" y1="39.50" x2="423.90" y2="39.50" stroke="#666" stroke-width="1.3"/>
<polygon points="416.20,33.40 416.76,34.74 418.20,34.85 417.10,35.79 417.43,37.20 416.20,36.45 414.97,37.20 415.30,35.79 414.20,34.85 415.64,34.74" fill="#222"/>
<text x="404.40" y="102.20" font-size="8.4" fill="#333" textLength="24.50" lengthAdjust="spacingAndGlyphs">Polarity</text>
<text x="0" y="0" font-size="8.6" fill="#333" text-anchor="middle" textLength="54.8" lengthAdjust="spacingAndGlyphs" transform="translate(379.00 62.20) rotate(-90)">% of all LT-HSCs</text>
<text x="434.00" y="15.40" font-size="11" fill="#111" font-weight="bold">C</text>
<text x="472.90" y="22.20" font-size="8.4" fill="#231f20" textLength="24.90" lengthAdjust="spacingAndGlyphs">CFU-C</text>
<line x1="463.80" y1="16.00" x2="463.80" y2="92.30" stroke="#333333" stroke-width="1.1"/>
<line x1="461.00" y1="91.80" x2="463.80" y2="91.80" stroke="#333333" stroke-width="0.9"/>
<text x="458.40" y="94.65" font-size="8.1" fill="#333" text-anchor="end" textLength="4.05" lengthAdjust="spacingAndGlyphs">0</text>
<line x1="461.00" y1="67.40" x2="463.80" y2="67.40" stroke="#333333" stroke-width="0.9"/>
<text x="458.40" y="70.25" font-size="8.1" fill="#333" text-anchor="end" textLength="8.10" lengthAdjust="spacingAndGlyphs">50</text>
<line x1="461.00" y1="43.00" x2="463.80" y2="43.00" stroke="#333333" stroke-width="0.9"/>
<text x="458.40" y="45.85" font-size="8.1" fill="#333" text-anchor="end" textLength="12.15" lengthAdjust="spacingAndGlyphs">100</text>
<line x1="461.00" y1="18.60" x2="463.80" y2="18.60" stroke="#333333" stroke-width="0.9"/>
<text x="458.40" y="21.45" font-size="8.1" fill="#333" text-anchor="end" textLength="12.15" lengthAdjust="spacingAndGlyphs">150</text>
<line x1="463.25" y1="91.80" x2="513.20" y2="91.80" stroke="#333333" stroke-width="1.1"/>
<line x1="477.50" y1="91.80" x2="477.50" y2="94.30" stroke="#333333" stroke-width="0.9"/>
<line x1="498.00" y1="91.80" x2="498.00" y2="94.30" stroke="#333333" stroke-width="0.9"/>
<text x="0" y="0" font-size="8.6" fill="#333" text-anchor="middle" textLength="68.3" lengthAdjust="spacingAndGlyphs" transform="translate(441.50 54.90) rotate(-90)">Colonies/60 LT-HSCs</text>
<line x1="479.30" y1="39.60" x2="494.20" y2="39.60" stroke="#666" stroke-width="1.3"/>
<polygon points="486.70,33.30 487.26,34.64 488.70,34.75 487.60,35.69 487.93,37.10 486.70,36.34 485.47,37.10 485.80,35.69 484.70,34.75 486.14,34.64" fill="#222"/>
<line x1="477.50" y1="51.00" x2="477.50" y2="90.00" stroke="#cc1f36" stroke-width="0.8"/>
<line x1="470.50" y1="71.00" x2="484.50" y2="71.00" stroke="#cc1f36" stroke-width="0.8"/>
<line x1="473.70" y1="51.00" x2="481.30" y2="51.00" stroke="#cc1f36" stroke-width="0.8"/>
<line x1="473.70" y1="90.00" x2="481.30" y2="90.00" stroke="#cc1f36" stroke-width="0.8"/>
<path d="M477.50,27.80 L478.93,30.35 L476.07,30.35 Z" fill="none" stroke="#d42a40" stroke-width="0.7"/>
<path d="M477.50,45.30 L478.93,47.85 L476.07,47.85 Z" fill="none" stroke="#d42a40" stroke-width="0.7"/>
<circle cx="477.50" cy="63.70" r="1.2" fill="none" stroke="#d42a40" stroke-width="0.7"/>
<circle cx="475.00" cy="72.50" r="1.2" fill="none" stroke="#d42a40" stroke-width="0.7"/>
<circle cx="479.80" cy="71.40" r="1.2" fill="none" stroke="#d42a40" stroke-width="0.7"/>
<path d="M477.50,79.20 L478.93,81.75 L476.07,81.75 Z" fill="none" stroke="#d42a40" stroke-width="0.7"/>
<path d="M472.80,83.90 L474.23,86.45 L471.38,86.45 Z" fill="none" stroke="#d42a40" stroke-width="0.7"/>
<path d="M483.80,83.90 L485.23,86.45 L482.38,86.45 Z" fill="none" stroke="#d42a40" stroke-width="0.7"/>
<circle cx="475.90" cy="85.60" r="1.2" fill="none" stroke="#d42a40" stroke-width="0.7"/>
<circle cx="480.50" cy="85.40" r="1.2" fill="none" stroke="#d42a40" stroke-width="0.7"/>
<circle cx="477.00" cy="89.30" r="1.2" fill="none" stroke="#d42a40" stroke-width="0.7"/>
<path d="M493.50,87.20 L494.80,88.50 L493.50,89.80 L492.20,88.50 Z" fill="#0f4b87"/>
<path d="M495.50,88.20 L496.80,89.50 L495.50,90.80 L494.20,89.50 Z" fill="#0f4b87"/>
<path d="M497.50,86.90 L498.80,88.20 L497.50,89.50 L496.20,88.20 Z" fill="#0f4b87"/>
<path d="M499.50,88.30 L500.80,89.60 L499.50,90.90 L498.20,89.60 Z" fill="#0f4b87"/>
<path d="M501.50,87.10 L502.80,88.40 L501.50,89.70 L500.20,88.40 Z" fill="#0f4b87"/>
<path d="M503.00,88.50 L504.30,89.80 L503.00,91.10 L501.70,89.80 Z" fill="#0f4b87"/>
<path d="M494.50,89.30 L495.80,90.60 L494.50,91.90 L493.20,90.60 Z" fill="#0f4b87"/>
<path d="M498.00,89.20 L499.30,90.50 L498.00,91.80 L496.70,90.50 Z" fill="#0f4b87"/>
<path d="M501.00,89.60 L502.30,90.90 L501.00,92.20 L499.70,90.90 Z" fill="#0f4b87"/>
<path d="M496.50,86.30 L497.80,87.60 L496.50,88.90 L495.20,87.60 Z" fill="#0f4b87"/>
<path d="M500.50,86.20 L501.80,87.50 L500.50,88.80 L499.20,87.50 Z" fill="#0f4b87"/>
<line x1="498.00" y1="87.40" x2="498.00" y2="91.00" stroke="#0f4b87" stroke-width="0.8"/>
<line x1="493.50" y1="89.30" x2="502.50" y2="89.30" stroke="#0f4b87" stroke-width="0.8"/>
<line x1="496.00" y1="87.40" x2="500.00" y2="87.40" stroke="#0f4b87" stroke-width="0.8"/>
<line x1="496.00" y1="91.00" x2="500.00" y2="91.00" stroke="#0f4b87" stroke-width="0.8"/>
<text x="6.70" y="126.30" font-size="11" fill="#111" font-weight="bold">D</text>
<text x="32.80" y="141.50" font-size="8.4" fill="#231f20" textLength="91.40" lengthAdjust="spacingAndGlyphs">Primary Tx (300 LT-HSC)</text>
<line x1="38.10" y1="147.30" x2="38.10" y2="204.50" stroke="#333333" stroke-width="1.1"/>
<line x1="35.30" y1="204.00" x2="38.10" y2="204.00" stroke="#333333" stroke-width="0.9"/>
<text x="31.50" y="206.85" font-size="8.1" fill="#333" text-anchor="end" textLength="4.05" lengthAdjust="spacingAndGlyphs">0</text>
<line x1="35.30" y1="193.18" x2="38.10" y2="193.18" stroke="#333333" stroke-width="0.9"/>
<text x="31.50" y="196.03" font-size="8.1" fill="#333" text-anchor="end" textLength="8.10" lengthAdjust="spacingAndGlyphs">20</text>
<line x1="35.30" y1="182.36" x2="38.10" y2="182.36" stroke="#333333" stroke-width="0.9"/>
<text x="31.50" y="185.21" font-size="8.1" fill="#333" text-anchor="end" textLength="8.10" lengthAdjust="spacingAndGlyphs">40</text>
<line x1="35.30" y1="171.54" x2="38.10" y2="171.54" stroke="#333333" stroke-width="0.9"/>
<text x="31.50" y="174.39" font-size="8.1" fill="#333" text-anchor="end" textLength="8.10" lengthAdjust="spacingAndGlyphs">60</text>
<line x1="35.30" y1="160.72" x2="38.10" y2="160.72" stroke="#333333" stroke-width="0.9"/>
<text x="31.50" y="163.57" font-size="8.1" fill="#333" text-anchor="end" textLength="8.10" lengthAdjust="spacingAndGlyphs">80</text>
<line x1="35.30" y1="149.90" x2="38.10" y2="149.90" stroke="#333333" stroke-width="0.9"/>
<text x="31.50" y="152.75" font-size="8.1" fill="#333" text-anchor="end" textLength="12.15" lengthAdjust="spacingAndGlyphs">100</text>
<line x1="37.55" y1="204.00" x2="116.70" y2="204.00" stroke="#333333" stroke-width="1.1"/>
<line x1="43.00" y1="204.00" x2="43.00" y2="206.50" stroke="#333333" stroke-width="0.9"/>
<line x1="65.10" y1="204.00" x2="65.10" y2="206.50" stroke="#333333" stroke-width="0.9"/>
<line x1="86.40" y1="204.00" x2="86.40" y2="206.50" stroke="#333333" stroke-width="0.9"/>
<line x1="108.60" y1="204.00" x2="108.60" y2="206.50" stroke="#333333" stroke-width="0.9"/>
<text x="43.00" y="216.00" font-size="8.1" fill="#333" text-anchor="middle" textLength="4.05" lengthAdjust="spacingAndGlyphs">4</text>
<text x="65.10" y="216.00" font-size="8.1" fill="#333" text-anchor="middle" textLength="4.05" lengthAdjust="spacingAndGlyphs">8</text>
<text x="86.40" y="216.00" font-size="8.1" fill="#333" text-anchor="middle" textLength="8.10" lengthAdjust="spacingAndGlyphs">12</text>
<text x="108.60" y="216.00" font-size="8.1" fill="#333" text-anchor="middle" textLength="8.10" lengthAdjust="spacingAndGlyphs">16</text>
<text x="55.50" y="226.20" font-size="9.2" fill="#333" textLength="46.50" lengthAdjust="spacingAndGlyphs">Weeks post Tx</text>
<text x="0" y="0" font-size="8.6" fill="#333" text-anchor="middle" textLength="66.3" lengthAdjust="spacingAndGlyphs" transform="translate(15.70 175.50) rotate(-90)">% Engraftment (PB)</text>
<polyline points="43.0,172.5 65.1,166.1 86.4,162.6 108.6,164.6" fill="none" stroke="#cc1f36" stroke-width="1.2"/>
<polyline points="43.0,179.8 65.1,164.1 86.4,168.3 108.6,171.9" fill="none" stroke="#cc1f36" stroke-width="1.2"/>
<polyline points="43.0,186.3 65.1,179.8 86.4,185.0 108.6,185.0" fill="none" stroke="#0f4b87" stroke-width="1.2"/>
<path d="M43.0,170.6 L44.8,173.7 L41.2,173.7 Z" fill="#fff" stroke="#cc1f36" stroke-width="0.7"/>
<path d="M65.1,164.2 L66.9,167.3 L63.3,167.3 Z" fill="#fff" stroke="#cc1f36" stroke-width="0.7"/>
<path d="M86.4,160.7 L88.2,163.8 L84.6,163.8 Z" fill="#fff" stroke="#cc1f36" stroke-width="0.7"/>
<path d="M108.6,162.7 L110.4,165.8 L106.8,165.8 Z" fill="#fff" stroke="#cc1f36" stroke-width="0.7"/>
<circle cx="43.0" cy="179.8" r="1.5" fill="#fff" stroke="#cc1f36" stroke-width="0.7"/>
<circle cx="65.1" cy="164.1" r="1.5" fill="#fff" stroke="#cc1f36" stroke-width="0.7"/>
<circle cx="86.4" cy="168.3" r="1.5" fill="#fff" stroke="#cc1f36" stroke-width="0.7"/>
<circle cx="108.6" cy="171.9" r="1.5" fill="#fff" stroke="#cc1f36" stroke-width="0.7"/>
<circle cx="43.0" cy="186.3" r="1.4" fill="#0f4b87"/>
<circle cx="65.1" cy="179.8" r="1.4" fill="#0f4b87"/>
<circle cx="86.4" cy="185.0" r="1.4" fill="#0f4b87"/>
<circle cx="108.6" cy="185.0" r="1.4" fill="#0f4b87"/>
<polygon points="65.10,173.00 65.66,174.34 67.10,174.45 66.00,175.39 66.33,176.80 65.10,176.04 63.87,176.80 64.20,175.39 63.10,174.45 64.54,174.34" fill="#222"/>
<polygon points="86.40,178.00 86.96,179.34 88.40,179.45 87.30,180.39 87.63,181.80 86.40,181.04 85.17,181.80 85.50,180.39 84.40,179.45 85.84,179.34" fill="#222"/>
<polygon points="108.60,178.00 109.16,179.34 110.60,179.45 109.50,180.39 109.83,181.80 108.60,181.04 107.37,181.80 107.70,180.39 106.60,179.45 108.04,179.34" fill="#222"/>
<text x="133.70" y="126.30" font-size="11" fill="#111" font-weight="bold">E</text>
<text x="163.20" y="130.80" font-size="8.4" fill="#231f20" textLength="22.90" lengthAdjust="spacingAndGlyphs">Donor</text>
<text x="159.50" y="140.60" font-size="8.4" fill="#231f20" textLength="30.60" lengthAdjust="spacingAndGlyphs">LT-HSC</text>
<line x1="157.30" y1="147.30" x2="157.30" y2="204.70" stroke="#333333" stroke-width="1.1"/>
<line x1="154.50" y1="204.20" x2="157.30" y2="204.20" stroke="#333333" stroke-width="0.9"/>
<text x="152.00" y="207.05" font-size="8.1" fill="#333" text-anchor="end" textLength="4.05" lengthAdjust="spacingAndGlyphs">0</text>
<line x1="154.50" y1="190.62" x2="157.30" y2="190.62" stroke="#333333" stroke-width="0.9"/>
<text x="152.00" y="193.47" font-size="8.1" fill="#333" text-anchor="end" textLength="4.05" lengthAdjust="spacingAndGlyphs">2</text>
<line x1="154.50" y1="177.05" x2="157.30" y2="177.05" stroke="#333333" stroke-width="0.9"/>
<text x="152.00" y="179.90" font-size="8.1" fill="#333" text-anchor="end" textLength="4.05" lengthAdjust="spacingAndGlyphs">4</text>
<line x1="154.50" y1="163.47" x2="157.30" y2="163.47" stroke="#333333" stroke-width="0.9"/>
<text x="152.00" y="166.32" font-size="8.1" fill="#333" text-anchor="end" textLength="4.05" lengthAdjust="spacingAndGlyphs">6</text>
<line x1="154.50" y1="149.90" x2="157.30" y2="149.90" stroke="#333333" stroke-width="0.9"/>
<text x="152.00" y="152.75" font-size="8.1" fill="#333" text-anchor="end" textLength="4.05" lengthAdjust="spacingAndGlyphs">8</text>
<line x1="156.75" y1="204.20" x2="193.70" y2="204.20" stroke="#333333" stroke-width="1.1"/>
<line x1="167.30" y1="204.20" x2="167.30" y2="206.70" stroke="#333333" stroke-width="0.9"/>
<line x1="183.30" y1="204.20" x2="183.30" y2="206.70" stroke="#333333" stroke-width="0.9"/>
<text x="0" y="0" font-size="8.6" fill="#333" text-anchor="middle" textLength="66.0" lengthAdjust="spacingAndGlyphs" transform="translate(143.50 176.30) rotate(-90)">Cell number (×10<tspan font-size="5.5" dy="-3">2</tspan><tspan dy="3">)</tspan></text>
<line x1="167.90" y1="152.40" x2="183.40" y2="152.40" stroke="#666" stroke-width="1.3"/>
<polygon points="175.60,145.70 176.16,147.04 177.60,147.15 176.50,148.09 176.83,149.50 175.60,148.75 174.37,149.50 174.70,148.09 173.60,147.15 175.04,147.04" fill="#222"/>
<line x1="167.30" y1="183.30" x2="167.30" y2="191.50" stroke="#cc1f36" stroke-width="0.8"/>
<line x1="162.80" y1="187.60" x2="171.80" y2="187.60" stroke="#cc1f36" stroke-width="0.8"/>
<line x1="165.10" y1="183.30" x2="169.50" y2="183.30" stroke="#cc1f36" stroke-width="0.8"/>
<line x1="165.10" y1="191.50" x2="169.50" y2="191.50" stroke="#cc1f36" stroke-width="0.8"/>
<path d="M167.30,159.50 L168.73,162.05 L165.88,162.05 Z" fill="none" stroke="#d42a40" stroke-width="0.7"/>
<circle cx="167.30" cy="170.60" r="1.2" fill="none" stroke="#d42a40" stroke-width="0.7"/>
<circle cx="166.50" cy="193.20" r="1.2" fill="none" stroke="#d42a40" stroke-width="0.7"/>
<circle cx="164.20" cy="197.00" r="1.2" fill="none" stroke="#d42a40" stroke-width="0.7"/>
<circle cx="167.30" cy="200.10" r="1.2" fill="none" stroke="#d42a40" stroke-width="0.7"/>
<circle cx="170.90" cy="199.50" r="1.2" fill="none" stroke="#d42a40" stroke-width="0.7"/>
<circle cx="165.50" cy="199.80" r="1.2" fill="none" stroke="#d42a40" stroke-width="0.7"/>
<path d="M169.40,194.60 L170.73,196.98 L168.07,196.98 Z" fill="none" stroke="#d42a40" stroke-width="0.7"/>
<path d="M180.50,198.70 L181.80,200.00 L180.50,201.30 L179.20,200.00 Z" fill="#0f4b87"/>
<path d="M182.70,198.00 L184.00,199.30 L182.70,200.60 L181.40,199.30 Z" fill="#0f4b87"/>
<path d="M185.00,198.80 L186.30,200.10 L185.00,201.40 L183.70,200.10 Z" fill="#0f4b87"/>
<path d="M181.50,200.00 L182.80,201.30 L181.50,202.60 L180.20,201.30 Z" fill="#0f4b87"/>
<path d="M184.00,199.90 L185.30,201.20 L184.00,202.50 L182.70,201.20 Z" fill="#0f4b87"/>
<path d="M182.70,197.30 L184.00,198.60 L182.70,199.90 L181.40,198.60 Z" fill="#0f4b87"/>
<line x1="182.70" y1="198.70" x2="182.70" y2="201.60" stroke="#0f4b87" stroke-width="0.8"/>
<line x1="178.10" y1="200.10" x2="187.30" y2="200.10" stroke="#0f4b87" stroke-width="0.8"/>
<line x1="180.90" y1="198.70" x2="184.50" y2="198.70" stroke="#0f4b87" stroke-width="0.8"/>
<line x1="180.90" y1="201.60" x2="184.50" y2="201.60" stroke="#0f4b87" stroke-width="0.8"/>
<text x="199.30" y="126.30" font-size="11" fill="#111" font-weight="bold">F</text>
<g transform="translate(204.2 143)" fill="none" stroke="#231f20" stroke-width="0.75" stroke-linecap="round" stroke-linejoin="round">
<path d="M14.4,14.3 L7,14.7 L6.8,16.6 L9,17.4 L14.4,18.3 Z" fill="#8a8a8a" stroke="none" opacity="0.55"/>
<path d="M10.8,8.6 C8.5,9.5 6.5,11 5.6,13 C5,14.3 4.6,15.6 4.5,16.8 C5.5,17.4 6.5,17.3 7.2,17.1"/>
<path d="M10.8,8.6 C10.9,6.5 11.5,4.6 13.1,3.9 C14.2,3.6 14.8,4.3 14.6,5.5 C14.5,6.3 14.2,7 14,7.5"/>
<path d="M14.2,4.3 C14.8,3.6 16.2,3.6 17.2,4.3 C17.8,5.2 17.8,6.8 17.7,8.2"/>
<path d="M17.7,8.3 C22,8.6 28.3,12 28.3,18.5 C28.3,24 24,27.8 18.5,27.8 C16.8,27.8 15.3,27.3 14.3,26.6"/>
<path d="M11.0,18.5 C11.2,20 11.8,22.2 13.4,24 C14.2,25 15.1,25.6 15.9,26.1"/>
<ellipse cx="8.8" cy="12.9" rx="1.15" ry="0.75" transform="rotate(-30 8.8 12.9)" fill="#231f20" stroke="none"/>
<path d="M7,14.6 L14.3,14.2 M7,15.4 L14.6,15.9 M7.4,16.2 L14.3,17.6" stroke-width="0.45"/>
<path d="M12.4,27.8 L16.5,26.1"/>
<path d="M28.4,18.1 C31,18.2 34.3,19.4 35.2,22.4 C35.9,25.5 34.6,29.2 31.8,30.2 C30.6,30.6 29.8,30.7 29.2,30.7"/>
<path d="M3.4,31.5 L30,30.6" stroke-width="1.1"/>
</g>
<text x="198.90" y="185.50" font-size="9.0" fill="#231f20" textLength="17.00" lengthAdjust="spacingAndGlyphs">O5A</text>
<text x="216.70" y="181.80" font-size="5.6" fill="#231f20" textLength="9.50" lengthAdjust="spacingAndGlyphs">+/+</text>
<text x="226.50" y="185.50" font-size="9.0" fill="#231f20" textLength="14.60" lengthAdjust="spacingAndGlyphs">/5A</text>
<text x="241.50" y="181.80" font-size="5.6" fill="#231f20" textLength="8.30" lengthAdjust="spacingAndGlyphs">fl/fl</text>
<text x="210.80" y="195.30" font-size="9.0" fill="#231f20" textLength="17.20" lengthAdjust="spacingAndGlyphs">O5A</text>
<text x="228.40" y="191.60" font-size="5.6" fill="#231f20" textLength="9.50" lengthAdjust="spacingAndGlyphs">Δ/Δ</text>
<line x1="243.20" y1="165.30" x2="280.40" y2="165.30" stroke="#231f20" stroke-width="0.9"/>
<path d="M283.90,165.30 L279.90,167.30 L279.90,163.30 Z" fill="#231f20"/>
<text x="244.00" y="161.20" font-size="8.6" fill="#231f20" textLength="36.40" lengthAdjust="spacingAndGlyphs">5-FU (i.p.)</text>
<text x="247.70" y="174.70" font-size="8.6" fill="#231f20" textLength="28.20" lengthAdjust="spacingAndGlyphs">30 days</text>
<text x="286.20" y="153.90" font-size="8.6" fill="#231f20" textLength="24.00" lengthAdjust="spacingAndGlyphs">Whole</text>
<text x="286.20" y="163.70" font-size="8.6" fill="#231f20" textLength="24.00" lengthAdjust="spacingAndGlyphs">mount</text>
<text x="286.20" y="173.80" font-size="8.6" fill="#231f20" textLength="11.50" lengthAdjust="spacingAndGlyphs">BM</text>
<text x="286.20" y="183.80" font-size="8.6" fill="#231f20" textLength="20.50" lengthAdjust="spacingAndGlyphs">niche</text>
<text x="201.40" y="249.50" font-size="11" fill="#111" font-weight="bold">I</text>
<g transform="translate(204.4 252.2)" fill="none" stroke="#231f20" stroke-width="0.75" stroke-linecap="round" stroke-linejoin="round">
<path d="M14.4,14.3 L7,14.7 L6.8,16.6 L9,17.4 L14.4,18.3 Z" fill="#8a8a8a" stroke="none" opacity="0.55"/>
<path d="M10.8,8.6 C8.5,9.5 6.5,11 5.6,13 C5,14.3 4.6,15.6 4.5,16.8 C5.5,17.4 6.5,17.3 7.2,17.1"/>
<path d="M10.8,8.6 C10.9,6.5 11.5,4.6 13.1,3.9 C14.2,3.6 14.8,4.3 14.6,5.5 C14.5,6.3 14.2,7 14,7.5"/>
<path d="M14.2,4.3 C14.8,3.6 16.2,3.6 17.2,4.3 C17.8,5.2 17.8,6.8 17.7,8.2"/>
<path d="M17.7,8.3 C22,8.6 28.3,12 28.3,18.5 C28.3,24 24,27.8 18.5,27.8 C16.8,27.8 15.3,27.3 14.3,26.6"/>
<path d="M11.0,18.5 C11.2,20 11.8,22.2 13.4,24 C14.2,25 15.1,25.6 15.9,26.1"/>
<ellipse cx="8.8" cy="12.9" rx="1.15" ry="0.75" transform="rotate(-30 8.8 12.9)" fill="#231f20" stroke="none"/>
<path d="M7,14.6 L14.3,14.2 M7,15.4 L14.6,15.9 M7.4,16.2 L14.3,17.6" stroke-width="0.45"/>
<path d="M12.4,27.8 L16.5,26.1"/>
<path d="M28.4,18.1 C31,18.2 34.3,19.4 35.2,22.4 C35.9,25.5 34.6,29.2 31.8,30.2 C30.6,30.6 29.8,30.7 29.2,30.7"/>
<path d="M3.4,31.5 L30,30.6" stroke-width="1.1"/>
</g>
<text x="199.20" y="294.50" font-size="9.0" fill="#231f20" textLength="17.00" lengthAdjust="spacingAndGlyphs">O5A</text>
<text x="217.00" y="290.80" font-size="5.6" fill="#231f20" textLength="9.50" lengthAdjust="spacingAndGlyphs">+/+</text>
<text x="226.80" y="294.50" font-size="9.0" fill="#231f20" textLength="14.60" lengthAdjust="spacingAndGlyphs">/5A</text>
<text x="241.80" y="290.80" font-size="5.6" fill="#231f20" textLength="8.30" lengthAdjust="spacingAndGlyphs">fl/fl</text>
<text x="211.10" y="304.30" font-size="9.0" fill="#231f20" textLength="17.20" lengthAdjust="spacingAndGlyphs">O5A</text>
<text x="228.70" y="300.60" font-size="5.6" fill="#231f20" textLength="9.50" lengthAdjust="spacingAndGlyphs">Δ/Δ</text>
<line x1="243.50" y1="274.20" x2="279.10" y2="274.20" stroke="#231f20" stroke-width="0.9"/>
<path d="M282.60,274.20 L278.60,276.20 L278.60,272.20 Z" fill="#231f20"/>
<text x="243.80" y="269.40" font-size="8.6" fill="#231f20" textLength="36.90" lengthAdjust="spacingAndGlyphs">5-FU (i.p.)</text>
<text x="249.90" y="283.20" font-size="8.6" fill="#231f20" textLength="23.80" lengthAdjust="spacingAndGlyphs">8 days</text>
<text x="285.90" y="263.50" font-size="8.6" fill="#231f20" textLength="19.50" lengthAdjust="spacingAndGlyphs">Bone</text>
<text x="285.90" y="273.40" font-size="8.6" fill="#231f20" textLength="23.20" lengthAdjust="spacingAndGlyphs">digest</text>
<text x="285.90" y="283.40" font-size="8.6" fill="#231f20" textLength="15.50" lengthAdjust="spacingAndGlyphs">flow</text>
<text x="285.90" y="293.30" font-size="8.6" fill="#231f20" textLength="38.00" lengthAdjust="spacingAndGlyphs">cytometry</text>
<text x="324.50" y="126.30" font-size="11" fill="#111" font-weight="bold">G</text>
<text x="343.30" y="133.00" font-size="8.6" fill="#231f20" textLength="20.50" lengthAdjust="spacingAndGlyphs">CTRL</text>
<text x="400.00" y="133.00" font-size="8.6" fill="#231f20" textLength="17.50" lengthAdjust="spacingAndGlyphs">O5A</text>
<text x="418.30" y="129.70" font-size="6.4" fill="#231f20" textLength="11.30" lengthAdjust="spacingAndGlyphs">Δ/Δ</text>
<rect x="325" y="210.2" width="115.5" height="10.4" fill="#000"/>
<text x="327.00" y="218.10" font-size="8.0" fill="#d0202e" textLength="20.40" lengthAdjust="spacingAndGlyphs">CD150</text>
<text x="350.80" y="218.10" font-size="8.0" fill="#f4f4f4" textLength="49.70" lengthAdjust="spacingAndGlyphs">CD41/48 lineage</text>
<text x="402.80" y="218.10" font-size="8.0" fill="#1f4d8f" textLength="34.00" lengthAdjust="spacingAndGlyphs">vasculature</text>
<line x1="478.00" y1="147.20" x2="478.00" y2="204.70" stroke="#333333" stroke-width="1.1"/>
<line x1="475.20" y1="204.20" x2="478.00" y2="204.20" stroke="#333333" stroke-width="0.9"/>
<text x="472.50" y="207.05" font-size="8.1" fill="#333" text-anchor="end" textLength="4.05" lengthAdjust="spacingAndGlyphs">0</text>
<line x1="475.20" y1="190.60" x2="478.00" y2="190.60" stroke="#333333" stroke-width="0.9"/>
<text x="472.50" y="193.45" font-size="8.1" fill="#333" text-anchor="end" textLength="8.10" lengthAdjust="spacingAndGlyphs">10</text>
<line x1="475.20" y1="177.00" x2="478.00" y2="177.00" stroke="#333333" stroke-width="0.9"/>
<text x="472.50" y="179.85" font-size="8.1" fill="#333" text-anchor="end" textLength="8.10" lengthAdjust="spacingAndGlyphs">20</text>
<line x1="475.20" y1="163.40" x2="478.00" y2="163.40" stroke="#333333" stroke-width="0.9"/>
<text x="472.50" y="166.25" font-size="8.1" fill="#333" text-anchor="end" textLength="8.10" lengthAdjust="spacingAndGlyphs">30</text>
<line x1="475.20" y1="149.80" x2="478.00" y2="149.80" stroke="#333333" stroke-width="0.9"/>
<text x="472.50" y="152.65" font-size="8.1" fill="#333" text-anchor="end" textLength="8.10" lengthAdjust="spacingAndGlyphs">40</text>
<line x1="477.45" y1="204.20" x2="512.40" y2="204.20" stroke="#333333" stroke-width="1.1"/>
<line x1="487.00" y1="204.20" x2="487.00" y2="206.70" stroke="#333333" stroke-width="0.9"/>
<line x1="505.00" y1="204.20" x2="505.00" y2="206.70" stroke="#333333" stroke-width="0.9"/>
<text x="0" y="0" font-size="8.6" fill="#333" text-anchor="middle" textLength="76.0" lengthAdjust="spacingAndGlyphs" transform="translate(457.40 173.90) rotate(-90)">% Trabecular vol./BM vol.</text>
<line x1="488.30" y1="152.30" x2="503.50" y2="152.30" stroke="#666" stroke-width="1.3"/>
<polygon points="496.20,146.00 496.76,147.34 498.20,147.45 497.10,148.39 497.43,149.80 496.20,149.04 494.97,149.80 495.30,148.39 494.20,147.45 495.64,147.34" fill="#222"/>
<circle cx="481.70" cy="186.90" r="1.15" fill="none" stroke="#d42a40" stroke-width="0.7"/>
<circle cx="484.50" cy="186.20" r="1.15" fill="none" stroke="#d42a40" stroke-width="0.7"/>
<circle cx="487.00" cy="187.50" r="1.15" fill="none" stroke="#d42a40" stroke-width="0.7"/>
<circle cx="489.50" cy="186.30" r="1.15" fill="none" stroke="#d42a40" stroke-width="0.7"/>
<circle cx="491.70" cy="186.90" r="1.15" fill="none" stroke="#d42a40" stroke-width="0.7"/>
<circle cx="485.50" cy="185.00" r="1.15" fill="none" stroke="#d42a40" stroke-width="0.7"/>
<circle cx="488.50" cy="184.80" r="1.15" fill="none" stroke="#d42a40" stroke-width="0.7"/>
<circle cx="483.00" cy="189.00" r="1.15" fill="none" stroke="#d42a40" stroke-width="0.7"/>
<circle cx="486.00" cy="189.20" r="1.15" fill="none" stroke="#d42a40" stroke-width="0.7"/>
<circle cx="481.70" cy="199.60" r="1.15" fill="none" stroke="#d42a40" stroke-width="0.7"/>
<circle cx="484.30" cy="199.20" r="1.15" fill="none" stroke="#d42a40" stroke-width="0.7"/>
<circle cx="487.00" cy="200.20" r="1.15" fill="none" stroke="#d42a40" stroke-width="0.7"/>
<circle cx="489.60" cy="199.40" r="1.15" fill="none" stroke="#d42a40" stroke-width="0.7"/>
<circle cx="492.50" cy="199.80" r="1.15" fill="none" stroke="#d42a40" stroke-width="0.7"/>
<circle cx="496.00" cy="199.60" r="1.15" fill="none" stroke="#d42a40" stroke-width="0.7"/>
<circle cx="485.40" cy="204.00" r="1.15" fill="none" stroke="#d42a40" stroke-width="0.7"/>
<circle cx="483.50" cy="197.50" r="1.15" fill="none" stroke="#d42a40" stroke-width="0.7"/>
<circle cx="488.50" cy="197.30" r="1.15" fill="none" stroke="#d42a40" stroke-width="0.7"/>
<circle cx="482.00" cy="194.10" r="1.1" fill="none" stroke="#d42a40" stroke-width="0.7"/>
<circle cx="482.00" cy="195.30" r="1.1" fill="none" stroke="#d42a40" stroke-width="0.7"/>
<circle cx="482.00" cy="196.50" r="1.1" fill="none" stroke="#d42a40" stroke-width="0.7"/>
<circle cx="484.00" cy="194.10" r="1.1" fill="none" stroke="#d42a40" stroke-width="0.7"/>
<circle cx="484.00" cy="195.30" r="1.1" fill="none" stroke="#d42a40" stroke-width="0.7"/>
<circle cx="484.00" cy="196.50" r="1.1" fill="none" stroke="#d42a40" stroke-width="0.7"/>
<circle cx="486.00" cy="194.10" r="1.1" fill="none" stroke="#d42a40" stroke-width="0.7"/>
<circle cx="486.00" cy="195.30" r="1.1" fill="none" stroke="#d42a40" stroke-width="0.7"/>
<circle cx="486.00" cy="196.50" r="1.1" fill="none" stroke="#d42a40" stroke-width="0.7"/>
<circle cx="488.00" cy="194.10" r="1.1" fill="none" stroke="#d42a40" stroke-width="0.7"/>
<circle cx="488.00" cy="195.30" r="1.1" fill="none" stroke="#d42a40" stroke-width="0.7"/>
<circle cx="488.00" cy="196.50" r="1.1" fill="none" stroke="#d42a40" stroke-width="0.7"/>
<circle cx="490.00" cy="194.10" r="1.1" fill="none" stroke="#d42a40" stroke-width="0.7"/>
<circle cx="490.00" cy="195.30" r="1.1" fill="none" stroke="#d42a40" stroke-width="0.7"/>
<circle cx="490.00" cy="196.50" r="1.1" fill="none" stroke="#d42a40" stroke-width="0.7"/>
<line x1="480.50" y1="195.30" x2="493.50" y2="195.30" stroke="#cc1f36" stroke-width="1.0"/>
<line x1="487.00" y1="193.60" x2="487.00" y2="197.00" stroke="#cc1f36" stroke-width="0.8"/>
<circle cx="502.80" cy="159.50" r="1.15" fill="#0f4b87"/>
<circle cx="506.50" cy="159.50" r="1.15" fill="#0f4b87"/>
<circle cx="505.00" cy="170.50" r="1.15" fill="#0f4b87"/>
<circle cx="502.50" cy="178.30" r="1.15" fill="#0f4b87"/>
<circle cx="507.00" cy="177.50" r="1.15" fill="#0f4b87"/>
<circle cx="505.00" cy="180.50" r="1.15" fill="#0f4b87"/>
<circle cx="502.80" cy="187.40" r="1.15" fill="#0f4b87"/>
<circle cx="506.50" cy="186.90" r="1.15" fill="#0f4b87"/>
<circle cx="505.00" cy="196.90" r="1.15" fill="#0f4b87"/>
<circle cx="505.00" cy="200.60" r="1.15" fill="#0f4b87"/>
<line x1="505.00" y1="176.50" x2="505.00" y2="184.20" stroke="#0f4b87" stroke-width="0.8"/>
<line x1="500.50" y1="180.30" x2="509.50" y2="180.30" stroke="#0f4b87" stroke-width="0.8"/>
<line x1="502.80" y1="176.50" x2="507.20" y2="176.50" stroke="#0f4b87" stroke-width="0.8"/>
<line x1="502.80" y1="184.20" x2="507.20" y2="184.20" stroke="#0f4b87" stroke-width="0.8"/>
<text x="9.50" y="249.50" font-size="11" fill="#111" font-weight="bold">H</text>
<text x="25.00" y="256.10" font-size="8.6" fill="#231f20" textLength="20.00" lengthAdjust="spacingAndGlyphs">CTRL</text>
<text x="85.70" y="256.10" font-size="8.6" fill="#231f20" textLength="17.30" lengthAdjust="spacingAndGlyphs">O5A</text>
<text x="103.20" y="253.00" font-size="5.6" fill="#231f20" textLength="9.80" lengthAdjust="spacingAndGlyphs">Δ/Δ</text>
<rect x="8" y="325.6" width="119.5" height="9.9" fill="#000"/>
<text x="16.40" y="332.80" font-size="8.0" fill="#b8182c" font-weight="bold" textLength="18.20" lengthAdjust="spacingAndGlyphs">FABP4</text>
<circle cx="47.5" cy="330.6" r="1.6" fill="#f4f0a0"/>
<text x="55.40" y="332.80" font-size="8.2" fill="#f4f4f4" textLength="29.20" lengthAdjust="spacingAndGlyphs">Adipocyte</text>
<line x1="157.50" y1="264.70" x2="157.50" y2="320.90" stroke="#333333" stroke-width="1.1"/>
<line x1="154.70" y1="320.40" x2="157.50" y2="320.40" stroke="#333333" stroke-width="0.9"/>
<text x="151.60" y="323.25" font-size="8.1" fill="#333" text-anchor="end" textLength="4.05" lengthAdjust="spacingAndGlyphs">0</text>
<line x1="154.70" y1="307.12" x2="157.50" y2="307.12" stroke="#333333" stroke-width="0.9"/>
<text x="151.60" y="309.98" font-size="8.1" fill="#333" text-anchor="end" textLength="8.10" lengthAdjust="spacingAndGlyphs">20</text>
<line x1="154.70" y1="293.85" x2="157.50" y2="293.85" stroke="#333333" stroke-width="0.9"/>
<text x="151.60" y="296.70" font-size="8.1" fill="#333" text-anchor="end" textLength="8.10" lengthAdjust="spacingAndGlyphs">40</text>
<line x1="154.70" y1="280.57" x2="157.50" y2="280.57" stroke="#333333" stroke-width="0.9"/>
<text x="151.60" y="283.43" font-size="8.1" fill="#333" text-anchor="end" textLength="8.10" lengthAdjust="spacingAndGlyphs">60</text>
<line x1="154.70" y1="267.30" x2="157.50" y2="267.30" stroke="#333333" stroke-width="0.9"/>
<text x="151.60" y="270.15" font-size="8.1" fill="#333" text-anchor="end" textLength="8.10" lengthAdjust="spacingAndGlyphs">80</text>
<line x1="156.95" y1="320.40" x2="193.40" y2="320.40" stroke="#333333" stroke-width="1.1"/>
<line x1="166.20" y1="320.40" x2="166.20" y2="322.90" stroke="#333333" stroke-width="0.9"/>
<line x1="184.20" y1="320.40" x2="184.20" y2="322.90" stroke="#333333" stroke-width="0.9"/>
<text x="0" y="0" font-size="8.6" fill="#333" text-anchor="middle" textLength="60.0" lengthAdjust="spacingAndGlyphs" transform="translate(138.80 293.20) rotate(-90)">Adipocytes/image</text>
<line x1="166.00" y1="272.70" x2="181.70" y2="272.70" stroke="#666" stroke-width="1.3"/>
<polygon points="173.40,265.60 173.96,266.94 175.40,267.05 174.30,267.99 174.63,269.40 173.40,268.64 172.17,269.40 172.50,267.99 171.40,267.05 172.84,266.94" fill="#222"/>
<circle cx="166.30" cy="277.30" r="1.2" fill="none" stroke="#d42a40" stroke-width="0.7"/>
<circle cx="166.30" cy="283.10" r="1.2" fill="none" stroke="#d42a40" stroke-width="0.7"/>
<path d="M166.30,289.30 L167.73,291.85 L164.88,291.85 Z" fill="none" stroke="#d42a40" stroke-width="0.7"/>
<path d="M162.70,297.90 L164.12,300.45 L161.27,300.45 Z" fill="none" stroke="#d42a40" stroke-width="0.7"/>
<circle cx="165.90" cy="300.30" r="1.2" fill="none" stroke="#d42a40" stroke-width="0.7"/>
<path d="M170.10,297.90 L171.53,300.45 L168.67,300.45 Z" fill="none" stroke="#d42a40" stroke-width="0.7"/>
<circle cx="164.00" cy="303.00" r="1.2" fill="none" stroke="#d42a40" stroke-width="0.7"/>
<circle cx="168.50" cy="303.50" r="1.2" fill="none" stroke="#d42a40" stroke-width="0.7"/>
<circle cx="166.20" cy="308.70" r="1.2" fill="none" stroke="#d42a40" stroke-width="0.7"/>
<path d="M165.90,311.50 L167.33,314.05 L164.47,314.05 Z" fill="none" stroke="#d42a40" stroke-width="0.7"/>
<circle cx="162.00" cy="316.50" r="1.2" fill="none" stroke="#d42a40" stroke-width="0.7"/>
<circle cx="166.00" cy="316.00" r="1.2" fill="none" stroke="#d42a40" stroke-width="0.7"/>
<circle cx="170.50" cy="316.50" r="1.2" fill="none" stroke="#d42a40" stroke-width="0.7"/>
<path d="M163.50,317.50 L164.93,320.05 L162.07,320.05 Z" fill="none" stroke="#d42a40" stroke-width="0.7"/>
<circle cx="168.50" cy="319.00" r="1.2" fill="none" stroke="#d42a40" stroke-width="0.7"/>
<circle cx="171.50" cy="318.50" r="1.2" fill="none" stroke="#d42a40" stroke-width="0.7"/>
<circle cx="161.50" cy="318.50" r="1.2" fill="none" stroke="#d42a40" stroke-width="0.7"/>
<line x1="166.20" y1="302.90" x2="166.20" y2="308.70" stroke="#cc1f36" stroke-width="0.8"/>
<line x1="160.60" y1="306.40" x2="171.80" y2="306.40" stroke="#cc1f36" stroke-width="0.8"/>
<line x1="163.60" y1="302.90" x2="168.80" y2="302.90" stroke="#cc1f36" stroke-width="0.8"/>
<line x1="163.60" y1="308.70" x2="168.80" y2="308.70" stroke="#cc1f36" stroke-width="0.8"/>
<path d="M179.50,317.80 L180.80,319.10 L179.50,320.40 L178.20,319.10 Z" fill="#0f4b87"/>
<path d="M181.50,317.00 L182.80,318.30 L181.50,319.60 L180.20,318.30 Z" fill="#0f4b87"/>
<path d="M183.50,317.90 L184.80,319.20 L183.50,320.50 L182.20,319.20 Z" fill="#0f4b87"/>
<path d="M185.50,317.20 L186.80,318.50 L185.50,319.80 L184.20,318.50 Z" fill="#0f4b87"/>
<path d="M187.50,317.90 L188.80,319.20 L187.50,320.50 L186.20,319.20 Z" fill="#0f4b87"/>
<path d="M189.50,317.40 L190.80,318.70 L189.50,320.00 L188.20,318.70 Z" fill="#0f4b87"/>
<path d="M182.50,318.70 L183.80,320.00 L182.50,321.30 L181.20,320.00 Z" fill="#0f4b87"/>
<path d="M186.50,318.70 L187.80,320.00 L186.50,321.30 L185.20,320.00 Z" fill="#0f4b87"/>
<line x1="180.00" y1="318.60" x2="189.00" y2="318.60" stroke="#0f4b87" stroke-width="0.8"/>
<text x="324.60" y="249.50" font-size="11" fill="#111" font-weight="bold">J</text>
<text x="352.30" y="255.90" font-size="8.4" fill="#231f20" textLength="19.50" lengthAdjust="spacingAndGlyphs">CD31</text>
<text x="372.00" y="252.60" font-size="5.6" fill="#231f20">+</text>
<text x="375.80" y="255.90" font-size="8.4" fill="#231f20" textLength="12.80" lengthAdjust="spacingAndGlyphs">EC</text>
<text x="423.70" y="256.00" font-size="8.4" fill="#231f20" textLength="17.30" lengthAdjust="spacingAndGlyphs">OBC</text>
<text x="484.20" y="256.00" font-size="8.4" fill="#231f20" textLength="22.70" lengthAdjust="spacingAndGlyphs">MSPC</text>
<line x1="352.50" y1="264.20" x2="352.50" y2="320.60" stroke="#333333" stroke-width="1.1"/>
<line x1="349.70" y1="320.10" x2="352.50" y2="320.10" stroke="#333333" stroke-width="0.9"/>
<text x="347.80" y="322.95" font-size="8.1" fill="#333" text-anchor="end" textLength="4.05" lengthAdjust="spacingAndGlyphs">0</text>
<line x1="349.70" y1="306.78" x2="352.50" y2="306.78" stroke="#333333" stroke-width="0.9"/>
<text x="347.80" y="309.63" font-size="8.1" fill="#333" text-anchor="end" textLength="4.05" lengthAdjust="spacingAndGlyphs">5</text>
<line x1="349.70" y1="293.45" x2="352.50" y2="293.45" stroke="#333333" stroke-width="0.9"/>
<text x="347.80" y="296.30" font-size="8.1" fill="#333" text-anchor="end" textLength="8.10" lengthAdjust="spacingAndGlyphs">10</text>
<line x1="349.70" y1="280.12" x2="352.50" y2="280.12" stroke="#333333" stroke-width="0.9"/>
<text x="347.80" y="282.98" font-size="8.1" fill="#333" text-anchor="end" textLength="8.10" lengthAdjust="spacingAndGlyphs">15</text>
<line x1="349.70" y1="266.80" x2="352.50" y2="266.80" stroke="#333333" stroke-width="0.9"/>
<text x="347.80" y="269.65" font-size="8.1" fill="#333" text-anchor="end" textLength="8.10" lengthAdjust="spacingAndGlyphs">20</text>
<line x1="351.95" y1="320.10" x2="387.80" y2="320.10" stroke="#333333" stroke-width="1.1"/>
<line x1="362.70" y1="320.10" x2="362.70" y2="322.60" stroke="#333333" stroke-width="0.9"/>
<line x1="378.30" y1="320.10" x2="378.30" y2="322.60" stroke="#333333" stroke-width="0.9"/>
<text x="0" y="0" font-size="8.6" fill="#333" text-anchor="middle" textLength="67.0" lengthAdjust="spacingAndGlyphs" transform="translate(336.00 292.50) rotate(-90)">% of TER119/CD45<tspan font-size="5.5" dy="-3">−</tspan></text>
<line x1="363.10" y1="270.50" x2="377.50" y2="270.50" stroke="#666" stroke-width="1.3"/>
<polygon points="370.60,265.50 371.16,266.84 372.60,266.95 371.50,267.89 371.83,269.30 370.60,268.55 369.37,269.30 369.70,267.89 368.60,266.95 370.04,266.84" fill="#222"/>
<path d="M366.77,310.86 L368.10,313.24 L365.44,313.24 Z" fill="none" stroke="#d42a40" stroke-width="0.7"/>
<circle cx="362.37" cy="305.43" r="1.2" fill="none" stroke="#d42a40" stroke-width="0.7"/>
<circle cx="359.67" cy="312.71" r="1.2" fill="none" stroke="#d42a40" stroke-width="0.7"/>
<path d="M362.81,305.92 L364.14,308.30 L361.48,308.30 Z" fill="none" stroke="#d42a40" stroke-width="0.7"/>
<circle cx="358.80" cy="312.23" r="1.2" fill="none" stroke="#d42a40" stroke-width="0.7"/>
<circle cx="360.81" cy="312.55" r="1.2" fill="none" stroke="#d42a40" stroke-width="0.7"/>
<path d="M364.56,299.10 L365.89,301.48 L363.23,301.48 Z" fill="none" stroke="#d42a40" stroke-width="0.7"/>
<circle cx="358.30" cy="302.85" r="1.2" fill="none" stroke="#d42a40" stroke-width="0.7"/>
<circle cx="364.18" cy="298.78" r="1.2" fill="none" stroke="#d42a40" stroke-width="0.7"/>
<path d="M363.81,306.87 L365.14,309.25 L362.48,309.25 Z" fill="none" stroke="#d42a40" stroke-width="0.7"/>
<circle cx="362.97" cy="306.63" r="1.2" fill="none" stroke="#d42a40" stroke-width="0.7"/>
<circle cx="358.47" cy="306.42" r="1.2" fill="none" stroke="#d42a40" stroke-width="0.7"/>
<path d="M358.19,304.48 L359.52,306.86 L356.86,306.86 Z" fill="none" stroke="#d42a40" stroke-width="0.7"/>
<circle cx="362.35" cy="304.09" r="1.2" fill="none" stroke="#d42a40" stroke-width="0.7"/>
<circle cx="362.88" cy="314.67" r="1.2" fill="none" stroke="#d42a40" stroke-width="0.7"/>
<path d="M364.05,302.65 L365.38,305.03 L362.72,305.03 Z" fill="none" stroke="#d42a40" stroke-width="0.7"/>
<circle cx="362.29" cy="313.33" r="1.2" fill="none" stroke="#d42a40" stroke-width="0.7"/>
<circle cx="360.57" cy="307.03" r="1.2" fill="none" stroke="#d42a40" stroke-width="0.7"/>
<path d="M365.97,297.38 L367.30,299.76 L364.64,299.76 Z" fill="none" stroke="#d42a40" stroke-width="0.7"/>
<circle cx="364.69" cy="307.25" r="1.2" fill="none" stroke="#d42a40" stroke-width="0.7"/>
<circle cx="360.67" cy="308.27" r="1.2" fill="none" stroke="#d42a40" stroke-width="0.7"/>
<path d="M358.57,302.82 L359.90,305.20 L357.24,305.20 Z" fill="none" stroke="#d42a40" stroke-width="0.7"/>
<circle cx="366.03" cy="306.60" r="1.2" fill="none" stroke="#d42a40" stroke-width="0.7"/>
<circle cx="361.61" cy="311.33" r="1.2" fill="none" stroke="#d42a40" stroke-width="0.7"/>
<path d="M357.91,297.66 L359.24,300.04 L356.58,300.04 Z" fill="none" stroke="#d42a40" stroke-width="0.7"/>
<circle cx="359.91" cy="309.20" r="1.2" fill="none" stroke="#d42a40" stroke-width="0.7"/>
<circle cx="367.31" cy="302.98" r="1.2" fill="none" stroke="#d42a40" stroke-width="0.7"/>
<path d="M361.72,308.21 L363.05,310.59 L360.39,310.59 Z" fill="none" stroke="#d42a40" stroke-width="0.7"/>
<circle cx="365.37" cy="301.65" r="1.2" fill="none" stroke="#d42a40" stroke-width="0.7"/>
<circle cx="360.49" cy="304.38" r="1.2" fill="none" stroke="#d42a40" stroke-width="0.7"/>
<path d="M367.16,302.37 L368.49,304.75 L365.83,304.75 Z" fill="none" stroke="#d42a40" stroke-width="0.7"/>
<circle cx="365.18" cy="305.05" r="1.2" fill="none" stroke="#d42a40" stroke-width="0.7"/>
<circle cx="358.87" cy="304.68" r="1.2" fill="none" stroke="#d42a40" stroke-width="0.7"/>
<path d="M358.47,303.48 L359.80,305.86 L357.14,305.86 Z" fill="none" stroke="#d42a40" stroke-width="0.7"/>
<line x1="362.70" y1="305.98" x2="362.70" y2="308.64" stroke="#cc1f36" stroke-width="0.8"/>
<line x1="358.20" y1="307.31" x2="367.20" y2="307.31" stroke="#cc1f36" stroke-width="0.8"/>
<line x1="360.70" y1="305.98" x2="364.70" y2="305.98" stroke="#cc1f36" stroke-width="0.8"/>
<line x1="360.70" y1="308.64" x2="364.70" y2="308.64" stroke="#cc1f36" stroke-width="0.8"/>
<circle cx="376.40" cy="278.70" r="1.25" fill="#0f4b87"/>
<circle cx="379.80" cy="281.60" r="1.25" fill="#0f4b87"/>
<circle cx="376.20" cy="291.60" r="1.25" fill="#0f4b87"/>
<circle cx="379.60" cy="291.30" r="1.25" fill="#0f4b87"/>
<circle cx="374.30" cy="298.50" r="1.25" fill="#0f4b87"/>
<circle cx="382.50" cy="299.00" r="1.25" fill="#0f4b87"/>
<circle cx="376.70" cy="304.80" r="1.25" fill="#0f4b87"/>
<circle cx="376.70" cy="308.50" r="1.25" fill="#0f4b87"/>
<circle cx="379.40" cy="311.70" r="1.25" fill="#0f4b87"/>
<circle cx="374.10" cy="315.40" r="1.25" fill="#0f4b87"/>
<circle cx="376.70" cy="317.30" r="1.25" fill="#0f4b87"/>
<circle cx="379.90" cy="317.00" r="1.25" fill="#0f4b87"/>
<circle cx="382.30" cy="314.90" r="1.25" fill="#0f4b87"/>
<circle cx="378.30" cy="300.60" r="1.25" fill="#0f4b87"/>
<line x1="378.30" y1="298.50" x2="378.30" y2="305.90" stroke="#0f4b87" stroke-width="0.8"/>
<line x1="373.70" y1="302.50" x2="382.90" y2="302.50" stroke="#0f4b87" stroke-width="0.8"/>
<line x1="376.10" y1="298.50" x2="380.50" y2="298.50" stroke="#0f4b87" stroke-width="0.8"/>
<line x1="376.10" y1="305.90" x2="380.50" y2="305.90" stroke="#0f4b87" stroke-width="0.8"/>
<text x="0" y="0" font-size="9.2" fill="#333" text-anchor="middle" textLength="37.5" lengthAdjust="spacingAndGlyphs" transform="translate(398.30 293.50) rotate(-90)">% of CD31<tspan font-size="6" dy="-3.2">−</tspan></text>
<line x1="413.30" y1="263.90" x2="413.30" y2="320.70" stroke="#333333" stroke-width="1.1"/>
<line x1="410.50" y1="320.20" x2="413.30" y2="320.20" stroke="#333333" stroke-width="0.9"/>
<text x="408.80" y="323.05" font-size="8.1" fill="#333" text-anchor="end" textLength="4.05" lengthAdjust="spacingAndGlyphs">0</text>
<line x1="410.50" y1="306.77" x2="413.30" y2="306.77" stroke="#333333" stroke-width="0.9"/>
<text x="408.80" y="309.62" font-size="8.1" fill="#333" text-anchor="end" textLength="8.10" lengthAdjust="spacingAndGlyphs">10</text>
<line x1="410.50" y1="293.35" x2="413.30" y2="293.35" stroke="#333333" stroke-width="0.9"/>
<text x="408.80" y="296.20" font-size="8.1" fill="#333" text-anchor="end" textLength="8.10" lengthAdjust="spacingAndGlyphs">20</text>
<line x1="410.50" y1="279.93" x2="413.30" y2="279.93" stroke="#333333" stroke-width="0.9"/>
<text x="408.80" y="282.78" font-size="8.1" fill="#333" text-anchor="end" textLength="8.10" lengthAdjust="spacingAndGlyphs">30</text>
<line x1="410.50" y1="266.50" x2="413.30" y2="266.50" stroke="#333333" stroke-width="0.9"/>
<text x="408.80" y="269.35" font-size="8.1" fill="#333" text-anchor="end" textLength="8.10" lengthAdjust="spacingAndGlyphs">40</text>
<line x1="412.75" y1="320.20" x2="451.30" y2="320.20" stroke="#333333" stroke-width="1.1"/>
<line x1="423.80" y1="320.20" x2="423.80" y2="322.70" stroke="#333333" stroke-width="0.9"/>
<line x1="439.30" y1="320.20" x2="439.30" y2="322.70" stroke="#333333" stroke-width="0.9"/>
<circle cx="423.50" cy="275.30" r="1.3" fill="none" stroke="#d42a40" stroke-width="0.7"/>
<path d="M420.20,298.35 L421.48,300.64 L418.92,300.64 Z" fill="none" stroke="#d42a40" stroke-width="0.7"/>
<path d="M422.60,298.35 L423.88,300.64 L421.32,300.64 Z" fill="none" stroke="#d42a40" stroke-width="0.7"/>
<path d="M425.00,298.35 L426.28,300.64 L423.72,300.64 Z" fill="none" stroke="#d42a40" stroke-width="0.7"/>
<circle cx="427.40" cy="299.70" r="1.35" fill="none" stroke="#d42a40" stroke-width="0.7"/>
<path d="M426.63,314.86 L427.96,317.24 L425.30,317.24 Z" fill="none" stroke="#d42a40" stroke-width="0.7"/>
<circle cx="428.05" cy="316.15" r="1.2" fill="none" stroke="#d42a40" stroke-width="0.7"/>
<path d="M419.28,311.25 L420.61,313.63 L417.95,313.63 Z" fill="none" stroke="#d42a40" stroke-width="0.7"/>
<circle cx="423.47" cy="320.02" r="1.2" fill="none" stroke="#d42a40" stroke-width="0.7"/>
<path d="M427.65,306.45 L428.98,308.83 L426.32,308.83 Z" fill="none" stroke="#d42a40" stroke-width="0.7"/>
<circle cx="420.09" cy="313.90" r="1.2" fill="none" stroke="#d42a40" stroke-width="0.7"/>
<path d="M424.22,313.32 L425.55,315.70 L422.89,315.70 Z" fill="none" stroke="#d42a40" stroke-width="0.7"/>
<circle cx="424.51" cy="311.64" r="1.2" fill="none" stroke="#d42a40" stroke-width="0.7"/>
<path d="M421.68,308.31 L423.01,310.69 L420.35,310.69 Z" fill="none" stroke="#d42a40" stroke-width="0.7"/>
<circle cx="427.80" cy="311.94" r="1.2" fill="none" stroke="#d42a40" stroke-width="0.7"/>
<path d="M426.65,310.54 L427.98,312.92 L425.32,312.92 Z" fill="none" stroke="#d42a40" stroke-width="0.7"/>
<circle cx="420.33" cy="314.19" r="1.2" fill="none" stroke="#d42a40" stroke-width="0.7"/>
<path d="M419.02,312.09 L420.35,314.47 L417.69,314.47 Z" fill="none" stroke="#d42a40" stroke-width="0.7"/>
<circle cx="427.37" cy="313.37" r="1.2" fill="none" stroke="#d42a40" stroke-width="0.7"/>
<path d="M428.43,310.13 L429.76,312.51 L427.10,312.51 Z" fill="none" stroke="#d42a40" stroke-width="0.7"/>
<circle cx="427.38" cy="309.79" r="1.2" fill="none" stroke="#d42a40" stroke-width="0.7"/>
<path d="M424.18,312.92 L425.51,315.30 L422.85,315.30 Z" fill="none" stroke="#d42a40" stroke-width="0.7"/>
<circle cx="425.51" cy="307.85" r="1.2" fill="none" stroke="#d42a40" stroke-width="0.7"/>
<path d="M425.63,308.42 L426.96,310.80 L424.30,310.80 Z" fill="none" stroke="#d42a40" stroke-width="0.7"/>
<circle cx="428.28" cy="307.85" r="1.2" fill="none" stroke="#d42a40" stroke-width="0.7"/>
<path d="M422.47,308.44 L423.80,310.82 L421.14,310.82 Z" fill="none" stroke="#d42a40" stroke-width="0.7"/>
<circle cx="420.59" cy="313.97" r="1.2" fill="none" stroke="#d42a40" stroke-width="0.7"/>
<path d="M421.89,309.96 L423.22,312.34 L420.56,312.34 Z" fill="none" stroke="#d42a40" stroke-width="0.7"/>
<circle cx="424.79" cy="311.13" r="1.2" fill="none" stroke="#d42a40" stroke-width="0.7"/>
<path d="M422.24,306.45 L423.57,308.83 L420.91,308.83 Z" fill="none" stroke="#d42a40" stroke-width="0.7"/>
<circle cx="421.98" cy="312.03" r="1.2" fill="none" stroke="#d42a40" stroke-width="0.7"/>
<path d="M422.03,309.08 L423.36,311.46 L420.70,311.46 Z" fill="none" stroke="#d42a40" stroke-width="0.7"/>
<circle cx="423.62" cy="315.78" r="1.2" fill="none" stroke="#d42a40" stroke-width="0.7"/>
<path d="M428.36,311.08 L429.69,313.46 L427.03,313.46 Z" fill="none" stroke="#d42a40" stroke-width="0.7"/>
<circle cx="419.22" cy="313.29" r="1.2" fill="none" stroke="#d42a40" stroke-width="0.7"/>
<path d="M419.17,310.75 L420.50,313.13 L417.84,313.13 Z" fill="none" stroke="#d42a40" stroke-width="0.7"/>
<circle cx="426.56" cy="318.88" r="1.2" fill="none" stroke="#d42a40" stroke-width="0.7"/>
<path d="M419.09,313.80 L420.42,316.18 L417.76,316.18 Z" fill="none" stroke="#d42a40" stroke-width="0.7"/>
<circle cx="419.45" cy="308.73" r="1.2" fill="none" stroke="#d42a40" stroke-width="0.7"/>
<path d="M420.89,307.09 L422.22,309.47 L419.56,309.47 Z" fill="none" stroke="#d42a40" stroke-width="0.7"/>
<circle cx="426.26" cy="307.85" r="1.2" fill="none" stroke="#d42a40" stroke-width="0.7"/>
<path d="M422.31,306.45 L423.64,308.83 L420.98,308.83 Z" fill="none" stroke="#d42a40" stroke-width="0.7"/>
<circle cx="422.41" cy="315.71" r="1.2" fill="none" stroke="#d42a40" stroke-width="0.7"/>
<path d="M420.04,316.71 L421.37,319.09 L418.71,319.09 Z" fill="none" stroke="#d42a40" stroke-width="0.7"/>
<circle cx="426.18" cy="313.08" r="1.2" fill="none" stroke="#d42a40" stroke-width="0.7"/>
<line x1="419.00" y1="309.90" x2="428.80" y2="309.90" stroke="#cc1f36" stroke-width="1.6"/>
<path d="M439.10,297.80 L440.50,299.20 L439.10,300.60 L437.70,299.20 Z" fill="#0f4b87"/>
<path d="M437.00,300.00 L438.40,301.40 L437.00,302.80 L435.60,301.40 Z" fill="#0f4b87"/>
<path d="M442.40,302.90 L443.80,304.30 L442.40,305.70 L441.00,304.30 Z" fill="#0f4b87"/>
<path d="M440.60,305.40 L442.00,306.80 L440.60,308.20 L439.20,306.80 Z" fill="#0f4b87"/>
<path d="M437.00,307.00 L438.40,308.40 L437.00,309.80 L435.60,308.40 Z" fill="#0f4b87"/>
<path d="M435.00,310.10 L436.40,311.50 L435.00,312.90 L433.60,311.50 Z" fill="#0f4b87"/>
<path d="M439.30,309.60 L440.70,311.00 L439.30,312.40 L437.90,311.00 Z" fill="#0f4b87"/>
<path d="M443.50,310.40 L444.90,311.80 L443.50,313.20 L442.10,311.80 Z" fill="#0f4b87"/>
<path d="M436.50,312.60 L437.90,314.00 L436.50,315.40 L435.10,314.00 Z" fill="#0f4b87"/>
<path d="M441.00,313.10 L442.40,314.50 L441.00,315.90 L439.60,314.50 Z" fill="#0f4b87"/>
<path d="M434.80,315.10 L436.20,316.50 L434.80,317.90 L433.40,316.50 Z" fill="#0f4b87"/>
<path d="M439.30,316.10 L440.70,317.50 L439.30,318.90 L437.90,317.50 Z" fill="#0f4b87"/>
<path d="M443.20,315.40 L444.60,316.80 L443.20,318.20 L441.80,316.80 Z" fill="#0f4b87"/>
<path d="M437.50,317.60 L438.90,319.00 L437.50,320.40 L436.10,319.00 Z" fill="#0f4b87"/>
<path d="M441.50,317.60 L442.90,319.00 L441.50,320.40 L440.10,319.00 Z" fill="#0f4b87"/>
<line x1="439.30" y1="310.50" x2="439.30" y2="316.50" stroke="#0f4b87" stroke-width="0.8"/>
<line x1="434.80" y1="313.50" x2="443.80" y2="313.50" stroke="#0f4b87" stroke-width="0.8"/>
<line x1="437.30" y1="310.50" x2="441.30" y2="310.50" stroke="#0f4b87" stroke-width="0.8"/>
<line x1="437.30" y1="316.50" x2="441.30" y2="316.50" stroke="#0f4b87" stroke-width="0.8"/>
<line x1="477.80" y1="263.50" x2="477.80" y2="320.50" stroke="#333333" stroke-width="1.1"/>
<line x1="475.00" y1="320.00" x2="477.80" y2="320.00" stroke="#333333" stroke-width="0.9"/>
<text x="472.50" y="322.85" font-size="8.1" fill="#333" text-anchor="end" textLength="4.05" lengthAdjust="spacingAndGlyphs">0</text>
<line x1="475.00" y1="293.05" x2="477.80" y2="293.05" stroke="#333333" stroke-width="0.9"/>
<text x="472.50" y="295.90" font-size="8.1" fill="#333" text-anchor="end" textLength="8.10" lengthAdjust="spacingAndGlyphs">50</text>
<line x1="475.00" y1="266.10" x2="477.80" y2="266.10" stroke="#333333" stroke-width="0.9"/>
<text x="472.50" y="268.95" font-size="8.1" fill="#333" text-anchor="end" textLength="12.15" lengthAdjust="spacingAndGlyphs">100</text>
<line x1="477.25" y1="320.00" x2="512.80" y2="320.00" stroke="#333333" stroke-width="1.1"/>
<line x1="488.30" y1="320.00" x2="488.30" y2="322.50" stroke="#333333" stroke-width="0.9"/>
<line x1="503.40" y1="320.00" x2="503.40" y2="322.50" stroke="#333333" stroke-width="0.9"/>
<text x="0" y="0" font-size="9.2" fill="#333" text-anchor="middle" textLength="37.5" lengthAdjust="spacingAndGlyphs" transform="translate(460.20 293.50) rotate(-90)">% of CD31<tspan font-size="6" dy="-3.2">−</tspan></text>
<line x1="487.50" y1="270.50" x2="502.30" y2="270.50" stroke="#666" stroke-width="1.3"/>
<polygon points="495.00,265.30 495.56,266.64 497.00,266.75 495.90,267.69 496.23,269.10 495.00,268.34 493.77,269.10 494.10,267.69 493.00,266.75 494.44,266.64" fill="#222"/>
<path d="M488.10,277.90 L489.43,280.28 L486.77,280.28 Z" fill="none" stroke="#d42a40" stroke-width="0.7"/>
<path d="M488.10,284.70 L489.43,287.08 L486.77,287.08 Z" fill="none" stroke="#d42a40" stroke-width="0.7"/>
<circle cx="488.30" cy="313.00" r="1.2" fill="none" stroke="#d42a40" stroke-width="0.7"/>
<circle cx="488.30" cy="318.90" r="1.2" fill="none" stroke="#d42a40" stroke-width="0.7"/>
<circle cx="484.83" cy="300.88" r="1.2" fill="none" stroke="#d42a40" stroke-width="0.7"/>
<path d="M491.82,294.46 L493.15,296.84 L490.49,296.84 Z" fill="none" stroke="#d42a40" stroke-width="0.7"/>
<circle cx="492.12" cy="291.73" r="1.2" fill="none" stroke="#d42a40" stroke-width="0.7"/>
<path d="M484.28,295.22 L485.61,297.60 L482.95,297.60 Z" fill="none" stroke="#d42a40" stroke-width="0.7"/>
<circle cx="483.89" cy="302.45" r="1.2" fill="none" stroke="#d42a40" stroke-width="0.7"/>
<path d="M487.14,297.42 L488.47,299.80 L485.81,299.80 Z" fill="none" stroke="#d42a40" stroke-width="0.7"/>
<circle cx="490.46" cy="298.19" r="1.2" fill="none" stroke="#d42a40" stroke-width="0.7"/>
<path d="M485.01,299.95 L486.34,302.33 L483.68,302.33 Z" fill="none" stroke="#d42a40" stroke-width="0.7"/>
<circle cx="488.36" cy="296.67" r="1.2" fill="none" stroke="#d42a40" stroke-width="0.7"/>
<path d="M492.37,293.34 L493.70,295.72 L491.04,295.72 Z" fill="none" stroke="#d42a40" stroke-width="0.7"/>
<circle cx="487.18" cy="303.09" r="1.2" fill="none" stroke="#d42a40" stroke-width="0.7"/>
<path d="M490.66,299.43 L491.99,301.81 L489.33,301.81 Z" fill="none" stroke="#d42a40" stroke-width="0.7"/>
<circle cx="489.97" cy="293.95" r="1.2" fill="none" stroke="#d42a40" stroke-width="0.7"/>
<path d="M490.47,293.29 L491.80,295.67 L489.14,295.67 Z" fill="none" stroke="#d42a40" stroke-width="0.7"/>
<circle cx="486.06" cy="298.45" r="1.2" fill="none" stroke="#d42a40" stroke-width="0.7"/>
<path d="M485.51,294.55 L486.84,296.93 L484.18,296.93 Z" fill="none" stroke="#d42a40" stroke-width="0.7"/>
<circle cx="485.42" cy="298.35" r="1.2" fill="none" stroke="#d42a40" stroke-width="0.7"/>
<path d="M492.01,287.72 L493.34,290.10 L490.68,290.10 Z" fill="none" stroke="#d42a40" stroke-width="0.7"/>
<circle cx="487.14" cy="295.77" r="1.2" fill="none" stroke="#d42a40" stroke-width="0.7"/>
<path d="M488.22,296.42 L489.55,298.80 L486.89,298.80 Z" fill="none" stroke="#d42a40" stroke-width="0.7"/>
<circle cx="492.20" cy="292.34" r="1.2" fill="none" stroke="#d42a40" stroke-width="0.7"/>
<path d="M484.58,294.76 L485.91,297.14 L483.25,297.14 Z" fill="none" stroke="#d42a40" stroke-width="0.7"/>
<circle cx="489.06" cy="298.62" r="1.2" fill="none" stroke="#d42a40" stroke-width="0.7"/>
<path d="M492.09,296.68 L493.42,299.06 L490.76,299.06 Z" fill="none" stroke="#d42a40" stroke-width="0.7"/>
<circle cx="484.30" cy="296.66" r="1.2" fill="none" stroke="#d42a40" stroke-width="0.7"/>
<path d="M488.68,294.89 L490.01,297.27 L487.35,297.27 Z" fill="none" stroke="#d42a40" stroke-width="0.7"/>
<circle cx="488.27" cy="295.02" r="1.2" fill="none" stroke="#d42a40" stroke-width="0.7"/>
<path d="M492.34,295.22 L493.67,297.60 L491.01,297.60 Z" fill="none" stroke="#d42a40" stroke-width="0.7"/>
<circle cx="489.63" cy="300.63" r="1.2" fill="none" stroke="#d42a40" stroke-width="0.7"/>
<path d="M484.40,293.33 L485.73,295.71 L483.07,295.71 Z" fill="none" stroke="#d42a40" stroke-width="0.7"/>
<circle cx="489.35" cy="299.15" r="1.2" fill="none" stroke="#d42a40" stroke-width="0.7"/>
<path d="M492.70,296.70 L494.03,299.08 L491.37,299.08 Z" fill="none" stroke="#d42a40" stroke-width="0.7"/>
<circle cx="489.32" cy="291.65" r="1.2" fill="none" stroke="#d42a40" stroke-width="0.7"/>
<path d="M484.93,293.59 L486.26,295.97 L483.60,295.97 Z" fill="none" stroke="#d42a40" stroke-width="0.7"/>
<line x1="488.30" y1="294.50" x2="488.30" y2="299.00" stroke="#cc1f36" stroke-width="0.8"/>
<line x1="483.30" y1="296.70" x2="493.30" y2="296.70" stroke="#cc1f36" stroke-width="0.8"/>
<line x1="486.00" y1="294.50" x2="490.60" y2="294.50" stroke="#cc1f36" stroke-width="0.8"/>
<line x1="486.00" y1="299.00" x2="490.60" y2="299.00" stroke="#cc1f36" stroke-width="0.8"/>
<circle cx="502.00" cy="286.80" r="1.25" fill="#0f4b87"/>
<circle cx="505.00" cy="287.50" r="1.25" fill="#0f4b87"/>
<circle cx="500.50" cy="289.50" r="1.25" fill="#0f4b87"/>
<circle cx="504.00" cy="290.50" r="1.25" fill="#0f4b87"/>
<circle cx="507.00" cy="291.00" r="1.25" fill="#0f4b87"/>
<circle cx="501.50" cy="292.50" r="1.25" fill="#0f4b87"/>
<circle cx="506.00" cy="293.20" r="1.25" fill="#0f4b87"/>
<circle cx="503.40" cy="299.60" r="1.25" fill="#0f4b87"/>
<circle cx="503.40" cy="308.90" r="1.25" fill="#0f4b87"/>
<circle cx="505.50" cy="288.50" r="1.25" fill="#0f4b87"/>
<line x1="503.40" y1="275.50" x2="503.40" y2="292.00" stroke="#0f4b87" stroke-width="0.8"/>
<line x1="498.00" y1="282.10" x2="508.80" y2="282.10" stroke="#0f4b87" stroke-width="0.8"/>
<line x1="501.20" y1="275.50" x2="505.60" y2="275.50" stroke="#0f4b87" stroke-width="0.8"/>
<line x1="501.20" y1="292.00" x2="505.60" y2="292.00" stroke="#0f4b87" stroke-width="0.8"/>
<g fill="#1a1a1a"><rect x="0" y="0" width="520" height="1"/><rect x="0" y="0" width="1.05" height="343"/><rect x="518.7" y="0" width="1.3" height="343"/><rect x="0" y="341.5" width="520" height="1.5"/></g>
</svg>
</body></html>
